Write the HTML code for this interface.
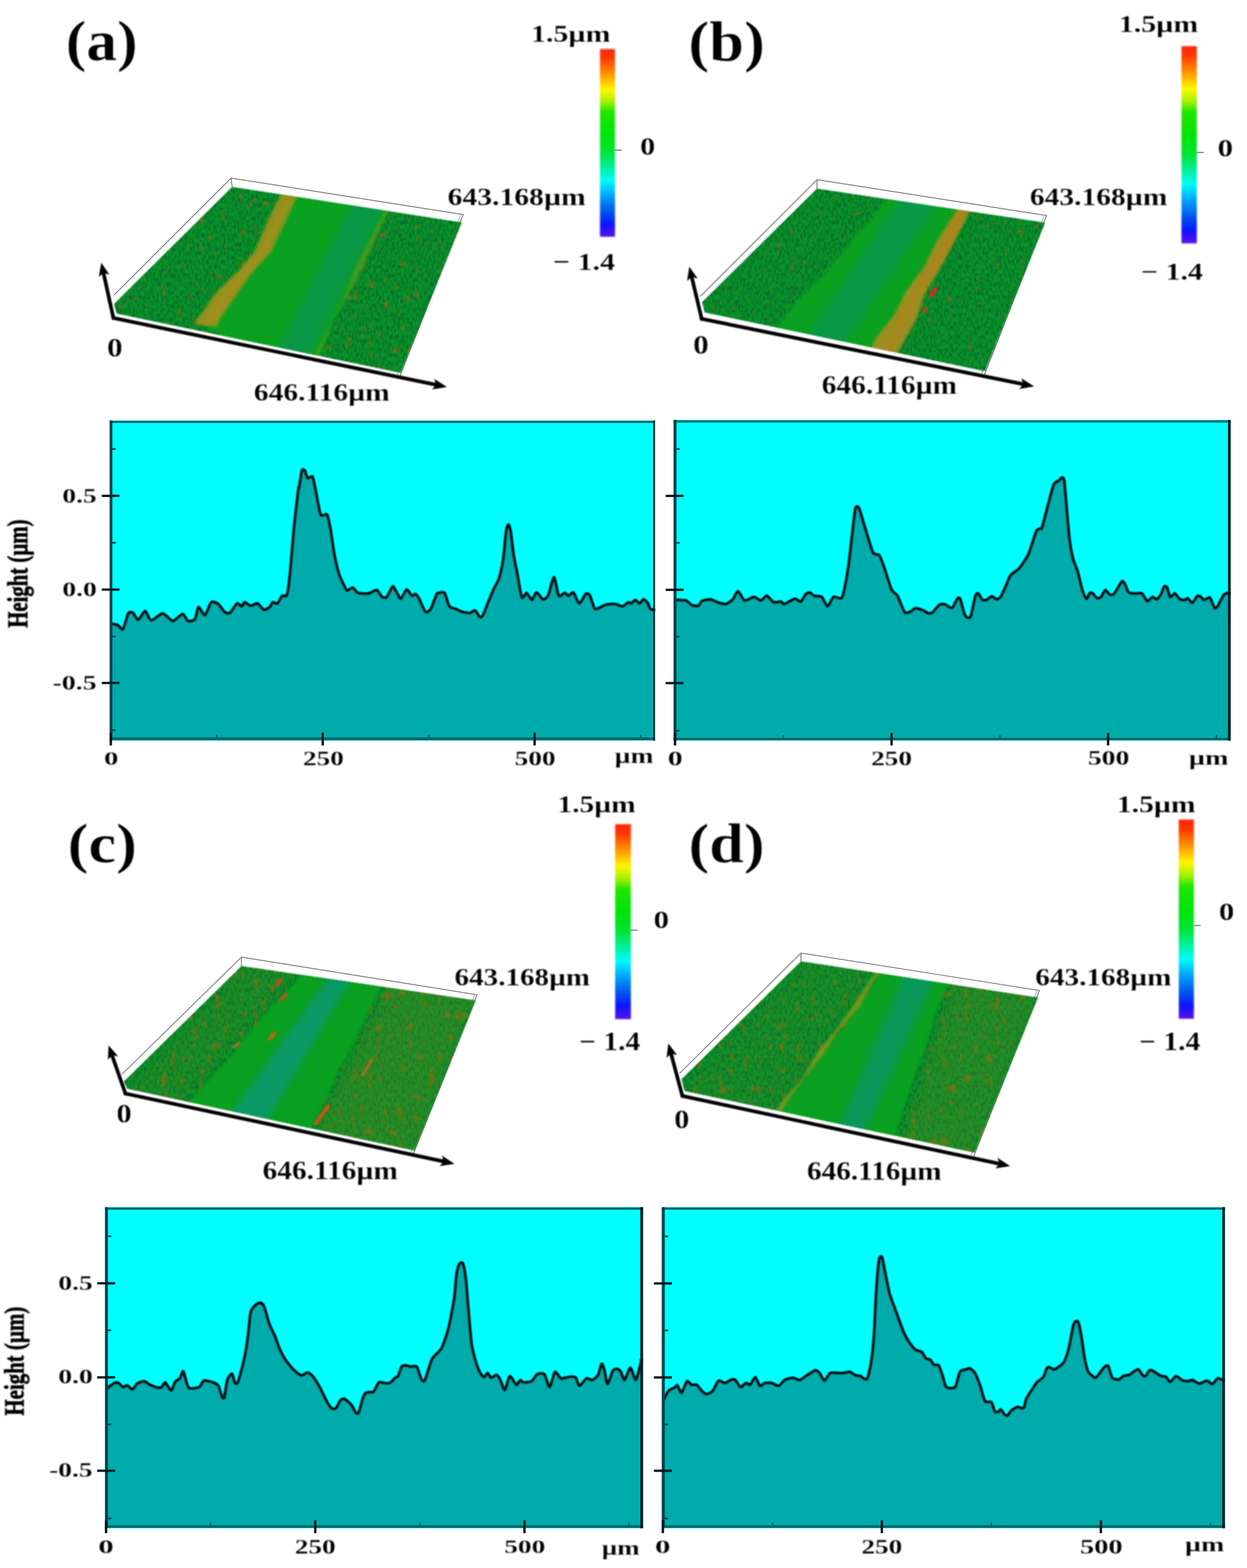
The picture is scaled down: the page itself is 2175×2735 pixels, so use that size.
<!DOCTYPE html>
<html lang="en"><head><meta charset="utf-8"><title>Figure</title>
<style>html,body{margin:0;padding:0;background:#fff}body{width:2175px;height:2735px;overflow:hidden}svg{display:block}</style>
</head><body>
<svg width="2175" height="2735" viewBox="0 0 2175 2735">
<defs>
<linearGradient id="cb" x1="0" y1="0" x2="0" y2="1">
<stop offset="0" stop-color="#ff2408"/>
<stop offset="0.05" stop-color="#ff3a00"/>
<stop offset="0.13" stop-color="#ff9000"/>
<stop offset="0.215" stop-color="#fff600"/>
<stop offset="0.28" stop-color="#a4f000"/>
<stop offset="0.335" stop-color="#1ee600"/>
<stop offset="0.45" stop-color="#00e408"/>
<stop offset="0.55" stop-color="#00e434"/>
<stop offset="0.63" stop-color="#00f09c"/>
<stop offset="0.70" stop-color="#00fcfc"/>
<stop offset="0.78" stop-color="#00a4f8"/>
<stop offset="0.87" stop-color="#0050f0"/>
<stop offset="0.935" stop-color="#0c14ff"/>
<stop offset="1" stop-color="#5c12e4"/>
</linearGradient>
<filter id="soft" x="-5%" y="-5%" width="110%" height="110%" color-interpolation-filters="sRGB"><feGaussianBlur stdDeviation="0.7"/></filter>
<filter id="softt" x="-5%" y="-5%" width="110%" height="110%" color-interpolation-filters="sRGB"><feGaussianBlur stdDeviation="0.9"/></filter>
<filter id="soft2" x="-5%" y="-5%" width="110%" height="110%" color-interpolation-filters="sRGB"><feGaussianBlur stdDeviation="1.1"/></filter>
<filter id="soft3" x="-20%" y="-5%" width="140%" height="110%" color-interpolation-filters="sRGB"><feGaussianBlur stdDeviation="1.6"/></filter>
<filter id="b3" x="-20%" y="-20%" width="140%" height="140%" color-interpolation-filters="sRGB"><feGaussianBlur stdDeviation="2.2"/></filter>
<filter id="b6" x="-30%" y="-30%" width="160%" height="160%" color-interpolation-filters="sRGB"><feGaussianBlur stdDeviation="7"/></filter>
<filter id="tex" x="0" y="0" width="100%" height="100%" color-interpolation-filters="sRGB">
<feTurbulence type="fractalNoise" baseFrequency="0.34 0.13" numOctaves="2" seed="7" result="n"/>
<feColorMatrix in="n" type="matrix" values="0 0 0 0 0.02  0 0 0 0 0.40  0 0 0 0 0.18  3.4 0 0 0 -1.45" result="d"/>
<feComposite in="d" in2="SourceGraphic" operator="in"/>
</filter>
<filter id="texS0" x="0" y="0" width="100%" height="100%" color-interpolation-filters="sRGB">
<feTurbulence type="fractalNoise" baseFrequency="0.08 0.06" numOctaves="2" seed="31" result="n"/>
<feColorMatrix in="n" type="matrix" values="0 0 0 0 0.55  0 0 0 0 0.40  0 0 0 0 0.10  0 5 0 0 -3.5" result="d"/>
<feComposite in="d" in2="SourceGraphic" operator="in"/>
</filter>
<filter id="texS1" x="0" y="0" width="100%" height="100%" color-interpolation-filters="sRGB">
<feTurbulence type="fractalNoise" baseFrequency="0.075 0.055" numOctaves="2" seed="12" result="n"/>
<feColorMatrix in="n" type="matrix" values="0 0 0 0 0.62  0 0 0 0 0.40  0 0 0 0 0.08  0 5 0 0 -3.3" result="d"/>
<feComposite in="d" in2="SourceGraphic" operator="in"/>
</filter>
<filter id="texS2" x="0" y="0" width="100%" height="100%" color-interpolation-filters="sRGB">
<feTurbulence type="fractalNoise" baseFrequency="0.075 0.055" numOctaves="2" seed="5" result="n"/>
<feColorMatrix in="n" type="matrix" values="0 0 0 0 0.56  0 0 0 0 0.40  0 0 0 0 0.08  0 4.5 0 0 -2.72" result="d"/>
<feComposite in="d" in2="SourceGraphic" operator="in"/>
</filter>
<filter id="texS3" x="0" y="0" width="100%" height="100%" color-interpolation-filters="sRGB">
<feTurbulence type="fractalNoise" baseFrequency="0.075 0.055" numOctaves="2" seed="17" result="n"/>
<feColorMatrix in="n" type="matrix" values="0 0 0 0 0.48  0 0 0 0 0.44  0 0 0 0 0.08  0 4.5 0 0 -2.72" result="d"/>
<feComposite in="d" in2="SourceGraphic" operator="in"/>
</filter>
</defs>
<rect x="0.00" y="0.00" width="2175.00" height="2735.00" fill="#ffffff"/>
<rect x="191.00" y="733.40" width="951.40" height="558.40" fill="#00ffff"/>
<path d="M195.0,1088.2 C195.1,1088.2 195.0,1087.9 196.1,1088.2 C197.3,1088.4 203.3,1089.2 205.3,1090.2 C207.3,1091.2 212.5,1099.6 214.5,1097.3 C216.5,1095.1 221.8,1072.9 223.7,1069.8 C225.6,1066.7 229.9,1067.5 231.8,1068.8 C233.7,1070.0 238.7,1081.4 241.0,1081.0 C243.4,1080.7 250.8,1065.6 253.3,1065.7 C255.7,1065.8 260.1,1081.6 263.5,1082.0 C266.8,1082.5 279.7,1069.7 283.9,1069.8 C288.0,1069.9 297.4,1082.9 301.2,1083.1 C305.0,1083.2 315.7,1070.8 318.6,1070.8 C321.5,1070.8 325.4,1082.1 327.8,1083.1 C330.1,1084.1 338.0,1082.7 340.0,1080.0 C342.0,1077.3 344.2,1059.4 346.1,1058.6 C348.0,1057.8 354.9,1073.8 357.3,1072.9 C359.8,1072.0 366.0,1052.5 368.6,1050.4 C371.2,1048.3 378.2,1051.6 380.8,1053.5 C383.4,1055.4 389.8,1066.1 392.0,1067.8 C394.3,1069.4 398.9,1070.5 401.2,1068.8 C403.6,1067.1 411.2,1053.7 413.5,1052.4 C415.7,1051.2 420.2,1057.8 421.6,1057.6 C423.1,1057.3 425.1,1050.5 426.7,1050.4 C428.4,1050.3 434.5,1056.3 436.9,1056.5 C439.4,1056.8 446.6,1051.7 449.2,1052.4 C451.8,1053.2 458.1,1063.0 460.4,1063.7 C462.8,1064.3 468.9,1060.0 470.6,1058.6 C472.3,1057.1 474.3,1051.1 475.7,1050.4 C477.2,1049.7 482.1,1053.7 483.9,1052.4 C485.7,1051.2 490.2,1040.8 492.0,1039.2 C493.8,1037.6 498.7,1042.0 500.2,1038.2 C501.7,1034.3 504.0,1017.2 505.3,1004.5 C506.7,991.8 510.8,939.7 512.4,922.9 C514.1,906.0 519.6,859.3 520.6,851.4 C521.6,843.6 520.8,854.8 521.4,851.4 C522.1,848.1 525.4,824.2 526.5,820.8 C527.7,817.4 530.5,819.4 531.6,820.8 C532.8,822.3 535.3,833.0 536.7,834.1 C538.2,835.2 543.4,829.1 544.9,831.0 C546.4,832.9 548.4,844.1 550.0,851.4 C551.6,858.7 556.9,892.3 559.2,897.3 C561.4,902.4 568.5,894.5 570.4,897.3 C572.3,900.2 575.1,914.9 576.5,922.9 C578.0,930.8 582.0,961.0 583.7,969.8 C585.4,978.6 590.0,996.8 591.8,1002.4 C593.6,1008.1 598.5,1017.8 600.0,1020.8 C601.5,1023.8 603.4,1029.6 605.1,1030.0 C606.8,1030.4 613.2,1024.4 615.3,1024.9 C617.4,1025.3 621.5,1033.0 624.5,1034.1 C627.5,1035.2 639.3,1035.7 642.9,1035.1 C646.4,1034.5 654.6,1028.3 657.1,1029.0 C659.7,1029.7 664.4,1039.9 666.3,1041.2 C668.2,1042.6 672.5,1043.2 674.5,1041.2 C676.5,1039.2 682.9,1024.0 684.7,1022.9 C686.5,1021.7 689.2,1028.7 690.8,1031.0 C692.4,1033.4 697.0,1044.6 699.0,1044.3 C701.0,1043.9 707.1,1028.5 709.2,1028.0 C711.3,1027.4 716.7,1038.3 718.4,1039.2 C720.1,1040.1 723.1,1035.7 724.5,1036.1 C725.8,1036.6 728.7,1039.9 730.6,1043.3 C732.5,1046.6 739.6,1064.6 741.8,1066.7 C744.1,1068.9 748.9,1065.9 751.0,1062.7 C753.2,1059.4 759.7,1040.3 761.2,1037.1 C762.8,1034.0 763.7,1034.4 765.3,1034.1 C766.9,1033.7 773.5,1031.5 775.5,1034.1 C777.5,1036.7 781.7,1054.5 783.7,1057.6 C785.7,1060.6 791.2,1060.5 793.9,1061.6 C796.6,1062.8 805.2,1067.0 808.2,1067.8 C811.1,1068.5 818.2,1069.1 820.4,1068.8 C822.7,1068.4 826.8,1063.9 828.6,1064.7 C830.4,1065.5 835.3,1074.9 836.7,1075.9 C838.2,1076.9 840.3,1076.6 841.8,1073.9 C843.4,1071.2 848.9,1056.6 851.0,1051.4 C853.2,1046.3 859.1,1031.7 861.2,1026.9 C863.4,1022.2 868.6,1014.2 870.4,1008.6 C872.2,1003.0 876.2,984.9 877.6,975.9 C878.9,966.9 881.6,933.7 882.7,926.9 C883.7,920.2 885.8,914.7 886.7,914.7 C887.6,914.7 889.8,921.1 890.8,926.9 C891.8,932.8 894.6,959.2 895.9,967.8 C897.3,976.3 901.5,996.3 903.1,1004.5 C904.6,1012.7 908.5,1039.0 910.2,1042.2 C911.9,1045.5 916.5,1033.6 918.4,1034.1 C920.3,1034.5 925.6,1046.4 927.6,1046.3 C929.5,1046.2 933.6,1033.2 935.7,1033.1 C937.8,1032.9 944.7,1044.7 946.9,1045.3 C949.2,1045.9 954.0,1042.4 956.1,1038.2 C958.3,1033.9 964.3,1006.4 966.3,1006.5 C968.3,1006.6 972.5,1036.2 974.5,1039.2 C976.5,1042.2 982.8,1034.1 984.7,1034.1 C986.6,1034.1 990.2,1039.3 991.8,1039.2 C993.5,1039.1 998.0,1031.6 1000.0,1033.1 C1002.0,1034.5 1007.8,1052.1 1010.2,1052.4 C1012.6,1052.8 1019.4,1037.7 1021.4,1036.1 C1023.4,1034.6 1026.9,1035.5 1028.6,1038.2 C1030.3,1040.9 1035.3,1058.0 1036.7,1060.6 C1038.2,1063.2 1039.6,1062.3 1041.8,1061.6 C1044.1,1061.0 1053.7,1055.4 1057.1,1054.5 C1060.6,1053.6 1070.3,1053.1 1073.5,1053.5 C1076.6,1053.8 1083.2,1057.9 1085.7,1057.6 C1088.2,1057.2 1094.2,1051.0 1095.9,1050.4 C1097.6,1049.8 1099.7,1052.9 1101.0,1052.4 C1102.4,1052.0 1106.6,1046.3 1108.2,1046.3 C1109.7,1046.3 1113.7,1052.6 1115.3,1052.4 C1116.9,1052.3 1120.9,1045.4 1122.4,1045.3 C1124.0,1045.2 1128.4,1049.6 1129.6,1051.4 C1130.8,1053.2 1132.6,1060.3 1133.7,1061.6 C1134.8,1063.0 1139.1,1063.4 1139.8,1063.7 C1140.5,1063.9 1140.3,1063.7 1140.4,1063.7 L1140.4,1287.3 L195.0,1287.3 Z" fill="#00abab"/>
<path d="M195.0,1088.2 C195.1,1088.2 195.0,1087.9 196.1,1088.2 C197.3,1088.4 203.3,1089.2 205.3,1090.2 C207.3,1091.2 212.5,1099.6 214.5,1097.3 C216.5,1095.1 221.8,1072.9 223.7,1069.8 C225.6,1066.7 229.9,1067.5 231.8,1068.8 C233.7,1070.0 238.7,1081.4 241.0,1081.0 C243.4,1080.7 250.8,1065.6 253.3,1065.7 C255.7,1065.8 260.1,1081.6 263.5,1082.0 C266.8,1082.5 279.7,1069.7 283.9,1069.8 C288.0,1069.9 297.4,1082.9 301.2,1083.1 C305.0,1083.2 315.7,1070.8 318.6,1070.8 C321.5,1070.8 325.4,1082.1 327.8,1083.1 C330.1,1084.1 338.0,1082.7 340.0,1080.0 C342.0,1077.3 344.2,1059.4 346.1,1058.6 C348.0,1057.8 354.9,1073.8 357.3,1072.9 C359.8,1072.0 366.0,1052.5 368.6,1050.4 C371.2,1048.3 378.2,1051.6 380.8,1053.5 C383.4,1055.4 389.8,1066.1 392.0,1067.8 C394.3,1069.4 398.9,1070.5 401.2,1068.8 C403.6,1067.1 411.2,1053.7 413.5,1052.4 C415.7,1051.2 420.2,1057.8 421.6,1057.6 C423.1,1057.3 425.1,1050.5 426.7,1050.4 C428.4,1050.3 434.5,1056.3 436.9,1056.5 C439.4,1056.8 446.6,1051.7 449.2,1052.4 C451.8,1053.2 458.1,1063.0 460.4,1063.7 C462.8,1064.3 468.9,1060.0 470.6,1058.6 C472.3,1057.1 474.3,1051.1 475.7,1050.4 C477.2,1049.7 482.1,1053.7 483.9,1052.4 C485.7,1051.2 490.2,1040.8 492.0,1039.2 C493.8,1037.6 498.7,1042.0 500.2,1038.2 C501.7,1034.3 504.0,1017.2 505.3,1004.5 C506.7,991.8 510.8,939.7 512.4,922.9 C514.1,906.0 519.6,859.3 520.6,851.4 C521.6,843.6 520.8,854.8 521.4,851.4 C522.1,848.1 525.4,824.2 526.5,820.8 C527.7,817.4 530.5,819.4 531.6,820.8 C532.8,822.3 535.3,833.0 536.7,834.1 C538.2,835.2 543.4,829.1 544.9,831.0 C546.4,832.9 548.4,844.1 550.0,851.4 C551.6,858.7 556.9,892.3 559.2,897.3 C561.4,902.4 568.5,894.5 570.4,897.3 C572.3,900.2 575.1,914.9 576.5,922.9 C578.0,930.8 582.0,961.0 583.7,969.8 C585.4,978.6 590.0,996.8 591.8,1002.4 C593.6,1008.1 598.5,1017.8 600.0,1020.8 C601.5,1023.8 603.4,1029.6 605.1,1030.0 C606.8,1030.4 613.2,1024.4 615.3,1024.9 C617.4,1025.3 621.5,1033.0 624.5,1034.1 C627.5,1035.2 639.3,1035.7 642.9,1035.1 C646.4,1034.5 654.6,1028.3 657.1,1029.0 C659.7,1029.7 664.4,1039.9 666.3,1041.2 C668.2,1042.6 672.5,1043.2 674.5,1041.2 C676.5,1039.2 682.9,1024.0 684.7,1022.9 C686.5,1021.7 689.2,1028.7 690.8,1031.0 C692.4,1033.4 697.0,1044.6 699.0,1044.3 C701.0,1043.9 707.1,1028.5 709.2,1028.0 C711.3,1027.4 716.7,1038.3 718.4,1039.2 C720.1,1040.1 723.1,1035.7 724.5,1036.1 C725.8,1036.6 728.7,1039.9 730.6,1043.3 C732.5,1046.6 739.6,1064.6 741.8,1066.7 C744.1,1068.9 748.9,1065.9 751.0,1062.7 C753.2,1059.4 759.7,1040.3 761.2,1037.1 C762.8,1034.0 763.7,1034.4 765.3,1034.1 C766.9,1033.7 773.5,1031.5 775.5,1034.1 C777.5,1036.7 781.7,1054.5 783.7,1057.6 C785.7,1060.6 791.2,1060.5 793.9,1061.6 C796.6,1062.8 805.2,1067.0 808.2,1067.8 C811.1,1068.5 818.2,1069.1 820.4,1068.8 C822.7,1068.4 826.8,1063.9 828.6,1064.7 C830.4,1065.5 835.3,1074.9 836.7,1075.9 C838.2,1076.9 840.3,1076.6 841.8,1073.9 C843.4,1071.2 848.9,1056.6 851.0,1051.4 C853.2,1046.3 859.1,1031.7 861.2,1026.9 C863.4,1022.2 868.6,1014.2 870.4,1008.6 C872.2,1003.0 876.2,984.9 877.6,975.9 C878.9,966.9 881.6,933.7 882.7,926.9 C883.7,920.2 885.8,914.7 886.7,914.7 C887.6,914.7 889.8,921.1 890.8,926.9 C891.8,932.8 894.6,959.2 895.9,967.8 C897.3,976.3 901.5,996.3 903.1,1004.5 C904.6,1012.7 908.5,1039.0 910.2,1042.2 C911.9,1045.5 916.5,1033.6 918.4,1034.1 C920.3,1034.5 925.6,1046.4 927.6,1046.3 C929.5,1046.2 933.6,1033.2 935.7,1033.1 C937.8,1032.9 944.7,1044.7 946.9,1045.3 C949.2,1045.9 954.0,1042.4 956.1,1038.2 C958.3,1033.9 964.3,1006.4 966.3,1006.5 C968.3,1006.6 972.5,1036.2 974.5,1039.2 C976.5,1042.2 982.8,1034.1 984.7,1034.1 C986.6,1034.1 990.2,1039.3 991.8,1039.2 C993.5,1039.1 998.0,1031.6 1000.0,1033.1 C1002.0,1034.5 1007.8,1052.1 1010.2,1052.4 C1012.6,1052.8 1019.4,1037.7 1021.4,1036.1 C1023.4,1034.6 1026.9,1035.5 1028.6,1038.2 C1030.3,1040.9 1035.3,1058.0 1036.7,1060.6 C1038.2,1063.2 1039.6,1062.3 1041.8,1061.6 C1044.1,1061.0 1053.7,1055.4 1057.1,1054.5 C1060.6,1053.6 1070.3,1053.1 1073.5,1053.5 C1076.6,1053.8 1083.2,1057.9 1085.7,1057.6 C1088.2,1057.2 1094.2,1051.0 1095.9,1050.4 C1097.6,1049.8 1099.7,1052.9 1101.0,1052.4 C1102.4,1052.0 1106.6,1046.3 1108.2,1046.3 C1109.7,1046.3 1113.7,1052.6 1115.3,1052.4 C1116.9,1052.3 1120.9,1045.4 1122.4,1045.3 C1124.0,1045.2 1128.4,1049.6 1129.6,1051.4 C1130.8,1053.2 1132.6,1060.3 1133.7,1061.6 C1134.8,1063.0 1139.1,1063.4 1139.8,1063.7 C1140.5,1063.9 1140.3,1063.7 1140.4,1063.7" fill="none" stroke="#020d12" stroke-width="4.7" stroke-linejoin="round" stroke-linecap="round" filter="url(#soft2)"/>
<rect x="196.00" y="1272.15" width="6.00" height="3.00" fill="#0a4a50"/>
<rect x="196.00" y="1108.65" width="6.00" height="3.00" fill="#0a4a50"/>
<rect x="196.00" y="945.15" width="6.00" height="3.00" fill="#0a4a50"/>
<rect x="196.00" y="781.65" width="6.00" height="3.00" fill="#0a4a50"/>
<rect x="376.80" y="1281.30" width="2.60" height="5.00" fill="#0a5a60"/>
<rect x="746.40" y="1281.30" width="2.60" height="5.00" fill="#0a5a60"/>
<rect x="1116.00" y="1281.30" width="2.60" height="5.00" fill="#0a5a60"/>
<g filter="url(#soft)">
<rect x="191.00" y="734.00" width="951.40" height="3.80" fill="#0a6a6e"/>
<rect x="191.00" y="1286.30" width="951.40" height="4.90" fill="#08666c"/>
<rect x="191.30" y="733.40" width="4.70" height="558.40" fill="#06444a"/>
<rect x="1139.40" y="733.40" width="3.00" height="558.40" fill="#04181c"/>
<rect x="177.50" y="862.90" width="31.00" height="4.00" fill="#04181c"/>
<rect x="177.50" y="1026.40" width="31.00" height="4.00" fill="#04181c"/>
<rect x="177.50" y="1189.30" width="31.00" height="4.00" fill="#04181c"/>
<rect x="191.20" y="1277.80" width="4.20" height="22.50" fill="#04181c"/>
<rect x="560.80" y="1277.80" width="4.20" height="22.50" fill="#04181c"/>
<rect x="930.40" y="1277.80" width="4.20" height="22.50" fill="#04181c"/>
</g>
<rect x="1174.60" y="732.50" width="971.90" height="559.30" fill="#00ffff"/>
<path d="M1178.9,1046.3 C1179.0,1046.3 1178.3,1046.2 1180.2,1046.3 C1182.1,1046.4 1193.6,1046.3 1196.5,1047.3 C1199.4,1048.4 1204.4,1054.5 1206.7,1055.5 C1209.1,1056.5 1216.1,1057.3 1218.0,1056.5 C1219.9,1055.7 1221.7,1049.6 1224.1,1048.4 C1226.4,1047.1 1236.4,1045.1 1239.4,1045.3 C1242.4,1045.5 1248.7,1049.5 1251.6,1050.4 C1254.6,1051.3 1263.0,1054.0 1265.9,1053.5 C1268.8,1052.9 1275.8,1047.8 1278.2,1045.3 C1280.5,1042.8 1285.1,1030.8 1287.3,1031.0 C1289.6,1031.2 1295.5,1046.2 1298.6,1047.3 C1301.6,1048.5 1311.8,1041.2 1314.9,1041.2 C1318.0,1041.2 1324.7,1047.6 1327.1,1047.3 C1329.6,1047.1 1334.9,1038.8 1337.3,1039.2 C1339.8,1039.5 1346.9,1049.3 1349.6,1050.4 C1352.3,1051.5 1359.8,1049.1 1361.8,1049.4 C1363.9,1049.7 1365.3,1054.0 1368.0,1053.5 C1370.7,1052.9 1383.2,1044.7 1386.3,1044.3 C1389.5,1043.8 1394.5,1050.2 1396.5,1049.4 C1398.6,1048.6 1403.0,1038.9 1404.7,1037.1 C1406.4,1035.3 1410.2,1032.8 1411.8,1033.1 C1413.5,1033.3 1417.6,1038.3 1420.0,1039.2 C1422.4,1040.1 1430.7,1039.2 1433.3,1041.2 C1435.8,1043.2 1441.2,1057.6 1443.5,1057.6 C1445.7,1057.6 1451.0,1042.8 1453.7,1041.2 C1456.4,1039.7 1465.7,1045.5 1468.0,1043.3 C1470.2,1041.0 1472.7,1027.3 1474.1,1020.8 C1475.4,1014.3 1478.7,994.9 1480.2,984.1 C1481.7,973.3 1486.0,933.6 1487.3,922.9 C1488.6,912.1 1490.9,890.2 1492.0,886.1 C1493.2,882.1 1496.4,882.5 1498.2,886.1 C1500.0,889.7 1505.7,910.2 1508.4,918.8 C1511.1,927.3 1519.8,958.2 1522.7,963.7 C1525.5,969.2 1531.6,965.6 1533.9,968.8 C1536.1,971.9 1540.7,985.6 1543.1,992.2 C1545.4,998.9 1552.8,1023.8 1555.3,1029.0 C1557.8,1034.1 1563.0,1034.9 1565.5,1039.2 C1568.0,1043.4 1575.3,1064.7 1577.8,1067.8 C1580.2,1070.8 1585.8,1067.5 1588.0,1066.7 C1590.1,1065.9 1594.7,1060.8 1597.1,1060.6 C1599.6,1060.4 1607.9,1063.7 1610.4,1064.7 C1612.9,1065.7 1617.8,1069.5 1619.6,1069.8 C1621.4,1070.1 1624.6,1069.4 1626.7,1067.8 C1628.9,1066.1 1636.5,1055.9 1639.0,1054.5 C1641.4,1053.0 1646.8,1053.8 1649.2,1054.5 C1651.5,1055.2 1658.2,1061.7 1660.4,1060.6 C1662.7,1059.5 1668.0,1046.1 1669.6,1044.3 C1671.2,1042.5 1673.3,1041.5 1674.7,1044.3 C1676.0,1047.1 1680.5,1066.2 1681.8,1069.8 C1683.2,1073.4 1685.7,1076.4 1686.9,1076.9 C1688.2,1077.5 1691.5,1079.1 1693.1,1074.9 C1694.6,1070.7 1699.8,1043.6 1701.2,1039.2 C1702.7,1034.8 1705.0,1034.3 1706.3,1035.1 C1707.7,1035.9 1711.9,1045.1 1713.5,1046.3 C1715.0,1047.6 1718.8,1047.0 1720.6,1046.3 C1722.4,1045.7 1727.9,1040.3 1729.8,1040.2 C1731.7,1040.1 1736.3,1045.2 1738.0,1045.3 C1739.6,1045.4 1743.5,1043.2 1745.1,1041.2 C1746.7,1039.2 1750.3,1031.1 1752.2,1026.9 C1754.2,1022.8 1759.6,1007.4 1762.4,1003.5 C1765.3,999.5 1774.3,995.4 1777.8,991.2 C1781.2,987.1 1790.8,972.8 1794.1,965.7 C1797.3,958.6 1804.9,931.9 1807.3,926.9 C1809.8,922.0 1815.4,921.5 1816.5,920.8 C1817.6,920.1 1816.2,924.6 1817.3,920.8 C1818.4,917.0 1824.3,894.4 1826.5,886.1 C1828.8,877.8 1835.5,850.6 1837.8,845.3 C1840.0,840.0 1845.4,839.5 1846.9,838.2 C1848.5,836.8 1851.0,833.2 1852.0,833.1 C1853.1,832.9 1855.2,831.8 1856.1,837.1 C1857.0,842.5 1859.2,870.8 1860.2,882.0 C1861.2,893.3 1864.1,929.1 1865.3,939.2 C1866.5,949.3 1869.9,967.6 1871.4,973.9 C1873.0,980.2 1877.8,990.3 1879.6,996.3 C1881.4,1002.4 1886.1,1023.7 1887.8,1029.0 C1889.4,1034.3 1893.4,1043.7 1894.9,1044.3 C1896.4,1044.8 1899.8,1035.1 1901.0,1034.1 C1902.3,1033.1 1904.8,1034.1 1906.1,1035.1 C1907.5,1036.1 1911.7,1042.6 1913.3,1043.3 C1914.8,1043.9 1918.8,1042.8 1920.4,1041.2 C1922.0,1039.7 1925.9,1029.4 1927.6,1029.0 C1929.2,1028.5 1934.0,1036.4 1935.7,1037.1 C1937.4,1037.9 1941.2,1037.7 1942.9,1036.1 C1944.5,1034.6 1949.4,1025.3 1951.0,1022.9 C1952.6,1020.4 1955.9,1014.1 1957.1,1013.7 C1958.4,1013.2 1961.0,1016.6 1962.2,1018.8 C1963.5,1020.9 1966.5,1031.3 1968.4,1033.1 C1970.3,1034.9 1977.0,1034.9 1979.6,1035.1 C1982.2,1035.3 1989.5,1033.6 1991.8,1035.1 C1994.2,1036.6 1999.0,1047.7 2001.0,1048.4 C2003.0,1049.0 2008.4,1041.6 2010.2,1041.2 C2012.0,1040.9 2015.8,1045.8 2017.3,1045.3 C2018.9,1044.9 2023.0,1039.6 2024.5,1037.1 C2025.9,1034.7 2029.4,1024.2 2030.6,1022.9 C2031.8,1021.5 2034.6,1022.9 2035.7,1024.9 C2036.8,1026.9 2039.4,1040.1 2040.8,1041.2 C2042.3,1042.3 2047.1,1034.7 2049.0,1035.1 C2050.9,1035.6 2056.1,1044.1 2058.2,1045.3 C2060.2,1046.5 2065.9,1046.6 2067.3,1046.3 C2068.8,1046.1 2070.1,1042.7 2071.4,1043.3 C2072.8,1043.8 2077.8,1051.8 2079.6,1051.4 C2081.4,1051.1 2086.2,1041.4 2087.8,1040.2 C2089.3,1039.0 2092.5,1039.5 2093.9,1040.2 C2095.2,1040.9 2098.2,1046.1 2100.0,1046.3 C2101.8,1046.6 2108.2,1040.7 2110.2,1042.2 C2112.2,1043.8 2116.9,1058.9 2118.4,1060.6 C2119.8,1062.3 2121.7,1060.1 2123.5,1057.6 C2125.3,1055.0 2132.4,1039.7 2134.7,1037.1 C2136.9,1034.6 2143.0,1034.4 2143.9,1034.1 C2144.8,1033.7 2142.9,1034.1 2142.8,1034.1 L2142.8,1288.0 L1178.9,1288.0 Z" fill="#00abab"/>
<path d="M1178.9,1046.3 C1179.0,1046.3 1178.3,1046.2 1180.2,1046.3 C1182.1,1046.4 1193.6,1046.3 1196.5,1047.3 C1199.4,1048.4 1204.4,1054.5 1206.7,1055.5 C1209.1,1056.5 1216.1,1057.3 1218.0,1056.5 C1219.9,1055.7 1221.7,1049.6 1224.1,1048.4 C1226.4,1047.1 1236.4,1045.1 1239.4,1045.3 C1242.4,1045.5 1248.7,1049.5 1251.6,1050.4 C1254.6,1051.3 1263.0,1054.0 1265.9,1053.5 C1268.8,1052.9 1275.8,1047.8 1278.2,1045.3 C1280.5,1042.8 1285.1,1030.8 1287.3,1031.0 C1289.6,1031.2 1295.5,1046.2 1298.6,1047.3 C1301.6,1048.5 1311.8,1041.2 1314.9,1041.2 C1318.0,1041.2 1324.7,1047.6 1327.1,1047.3 C1329.6,1047.1 1334.9,1038.8 1337.3,1039.2 C1339.8,1039.5 1346.9,1049.3 1349.6,1050.4 C1352.3,1051.5 1359.8,1049.1 1361.8,1049.4 C1363.9,1049.7 1365.3,1054.0 1368.0,1053.5 C1370.7,1052.9 1383.2,1044.7 1386.3,1044.3 C1389.5,1043.8 1394.5,1050.2 1396.5,1049.4 C1398.6,1048.6 1403.0,1038.9 1404.7,1037.1 C1406.4,1035.3 1410.2,1032.8 1411.8,1033.1 C1413.5,1033.3 1417.6,1038.3 1420.0,1039.2 C1422.4,1040.1 1430.7,1039.2 1433.3,1041.2 C1435.8,1043.2 1441.2,1057.6 1443.5,1057.6 C1445.7,1057.6 1451.0,1042.8 1453.7,1041.2 C1456.4,1039.7 1465.7,1045.5 1468.0,1043.3 C1470.2,1041.0 1472.7,1027.3 1474.1,1020.8 C1475.4,1014.3 1478.7,994.9 1480.2,984.1 C1481.7,973.3 1486.0,933.6 1487.3,922.9 C1488.6,912.1 1490.9,890.2 1492.0,886.1 C1493.2,882.1 1496.4,882.5 1498.2,886.1 C1500.0,889.7 1505.7,910.2 1508.4,918.8 C1511.1,927.3 1519.8,958.2 1522.7,963.7 C1525.5,969.2 1531.6,965.6 1533.9,968.8 C1536.1,971.9 1540.7,985.6 1543.1,992.2 C1545.4,998.9 1552.8,1023.8 1555.3,1029.0 C1557.8,1034.1 1563.0,1034.9 1565.5,1039.2 C1568.0,1043.4 1575.3,1064.7 1577.8,1067.8 C1580.2,1070.8 1585.8,1067.5 1588.0,1066.7 C1590.1,1065.9 1594.7,1060.8 1597.1,1060.6 C1599.6,1060.4 1607.9,1063.7 1610.4,1064.7 C1612.9,1065.7 1617.8,1069.5 1619.6,1069.8 C1621.4,1070.1 1624.6,1069.4 1626.7,1067.8 C1628.9,1066.1 1636.5,1055.9 1639.0,1054.5 C1641.4,1053.0 1646.8,1053.8 1649.2,1054.5 C1651.5,1055.2 1658.2,1061.7 1660.4,1060.6 C1662.7,1059.5 1668.0,1046.1 1669.6,1044.3 C1671.2,1042.5 1673.3,1041.5 1674.7,1044.3 C1676.0,1047.1 1680.5,1066.2 1681.8,1069.8 C1683.2,1073.4 1685.7,1076.4 1686.9,1076.9 C1688.2,1077.5 1691.5,1079.1 1693.1,1074.9 C1694.6,1070.7 1699.8,1043.6 1701.2,1039.2 C1702.7,1034.8 1705.0,1034.3 1706.3,1035.1 C1707.7,1035.9 1711.9,1045.1 1713.5,1046.3 C1715.0,1047.6 1718.8,1047.0 1720.6,1046.3 C1722.4,1045.7 1727.9,1040.3 1729.8,1040.2 C1731.7,1040.1 1736.3,1045.2 1738.0,1045.3 C1739.6,1045.4 1743.5,1043.2 1745.1,1041.2 C1746.7,1039.2 1750.3,1031.1 1752.2,1026.9 C1754.2,1022.8 1759.6,1007.4 1762.4,1003.5 C1765.3,999.5 1774.3,995.4 1777.8,991.2 C1781.2,987.1 1790.8,972.8 1794.1,965.7 C1797.3,958.6 1804.9,931.9 1807.3,926.9 C1809.8,922.0 1815.4,921.5 1816.5,920.8 C1817.6,920.1 1816.2,924.6 1817.3,920.8 C1818.4,917.0 1824.3,894.4 1826.5,886.1 C1828.8,877.8 1835.5,850.6 1837.8,845.3 C1840.0,840.0 1845.4,839.5 1846.9,838.2 C1848.5,836.8 1851.0,833.2 1852.0,833.1 C1853.1,832.9 1855.2,831.8 1856.1,837.1 C1857.0,842.5 1859.2,870.8 1860.2,882.0 C1861.2,893.3 1864.1,929.1 1865.3,939.2 C1866.5,949.3 1869.9,967.6 1871.4,973.9 C1873.0,980.2 1877.8,990.3 1879.6,996.3 C1881.4,1002.4 1886.1,1023.7 1887.8,1029.0 C1889.4,1034.3 1893.4,1043.7 1894.9,1044.3 C1896.4,1044.8 1899.8,1035.1 1901.0,1034.1 C1902.3,1033.1 1904.8,1034.1 1906.1,1035.1 C1907.5,1036.1 1911.7,1042.6 1913.3,1043.3 C1914.8,1043.9 1918.8,1042.8 1920.4,1041.2 C1922.0,1039.7 1925.9,1029.4 1927.6,1029.0 C1929.2,1028.5 1934.0,1036.4 1935.7,1037.1 C1937.4,1037.9 1941.2,1037.7 1942.9,1036.1 C1944.5,1034.6 1949.4,1025.3 1951.0,1022.9 C1952.6,1020.4 1955.9,1014.1 1957.1,1013.7 C1958.4,1013.2 1961.0,1016.6 1962.2,1018.8 C1963.5,1020.9 1966.5,1031.3 1968.4,1033.1 C1970.3,1034.9 1977.0,1034.9 1979.6,1035.1 C1982.2,1035.3 1989.5,1033.6 1991.8,1035.1 C1994.2,1036.6 1999.0,1047.7 2001.0,1048.4 C2003.0,1049.0 2008.4,1041.6 2010.2,1041.2 C2012.0,1040.9 2015.8,1045.8 2017.3,1045.3 C2018.9,1044.9 2023.0,1039.6 2024.5,1037.1 C2025.9,1034.7 2029.4,1024.2 2030.6,1022.9 C2031.8,1021.5 2034.6,1022.9 2035.7,1024.9 C2036.8,1026.9 2039.4,1040.1 2040.8,1041.2 C2042.3,1042.3 2047.1,1034.7 2049.0,1035.1 C2050.9,1035.6 2056.1,1044.1 2058.2,1045.3 C2060.2,1046.5 2065.9,1046.6 2067.3,1046.3 C2068.8,1046.1 2070.1,1042.7 2071.4,1043.3 C2072.8,1043.8 2077.8,1051.8 2079.6,1051.4 C2081.4,1051.1 2086.2,1041.4 2087.8,1040.2 C2089.3,1039.0 2092.5,1039.5 2093.9,1040.2 C2095.2,1040.9 2098.2,1046.1 2100.0,1046.3 C2101.8,1046.6 2108.2,1040.7 2110.2,1042.2 C2112.2,1043.8 2116.9,1058.9 2118.4,1060.6 C2119.8,1062.3 2121.7,1060.1 2123.5,1057.6 C2125.3,1055.0 2132.4,1039.7 2134.7,1037.1 C2136.9,1034.6 2143.0,1034.4 2143.9,1034.1 C2144.8,1033.7 2142.9,1034.1 2142.8,1034.1" fill="none" stroke="#020d12" stroke-width="4.7" stroke-linejoin="round" stroke-linecap="round" filter="url(#soft2)"/>
<rect x="1179.90" y="1273.00" width="6.00" height="3.00" fill="#0a4a50"/>
<rect x="1179.90" y="1109.20" width="6.00" height="3.00" fill="#0a4a50"/>
<rect x="1179.90" y="945.40" width="6.00" height="3.00" fill="#0a4a50"/>
<rect x="1179.90" y="781.60" width="6.00" height="3.00" fill="#0a4a50"/>
<rect x="1364.95" y="1282.00" width="2.60" height="5.00" fill="#0a5a60"/>
<rect x="1742.65" y="1282.00" width="2.60" height="5.00" fill="#0a5a60"/>
<rect x="2120.35" y="1282.00" width="2.60" height="5.00" fill="#0a5a60"/>
<g filter="url(#soft)">
<rect x="1174.60" y="733.10" width="971.90" height="3.80" fill="#0a6a6e"/>
<rect x="1174.60" y="1287.00" width="971.90" height="4.20" fill="#08666c"/>
<rect x="1174.90" y="732.50" width="5.00" height="559.30" fill="#06444a"/>
<rect x="2141.80" y="732.50" width="4.70" height="559.30" fill="#04181c"/>
<rect x="1161.10" y="863.00" width="31.30" height="4.00" fill="#04181c"/>
<rect x="1161.10" y="1026.80" width="31.30" height="4.00" fill="#04181c"/>
<rect x="1161.10" y="1189.50" width="31.30" height="4.00" fill="#04181c"/>
<rect x="1175.30" y="1278.50" width="4.20" height="21.80" fill="#04181c"/>
<rect x="1553.00" y="1278.50" width="4.20" height="21.80" fill="#04181c"/>
<rect x="1930.60" y="1278.50" width="4.20" height="21.80" fill="#04181c"/>
</g>
<rect x="182.90" y="2105.50" width="938.70" height="560.20" fill="#00ffff"/>
<path d="M187.2,2420.4 C187.3,2420.4 186.8,2421.3 188.2,2420.4 C189.5,2419.5 197.4,2413.1 199.4,2412.2 C201.4,2411.3 204.8,2411.5 206.5,2412.2 C208.2,2413.0 213.0,2418.9 214.7,2419.4 C216.4,2419.8 220.0,2415.9 221.8,2416.3 C223.6,2416.8 229.1,2423.8 231.0,2423.5 C232.9,2423.1 236.9,2414.8 239.2,2413.3 C241.4,2411.7 249.0,2409.0 251.4,2409.2 C253.9,2409.4 258.9,2414.1 261.6,2415.3 C264.3,2416.5 273.7,2420.0 275.9,2420.4 C278.2,2420.9 280.7,2420.4 282.0,2419.4 C283.4,2418.4 286.4,2410.6 288.2,2411.2 C290.0,2411.9 296.5,2425.6 298.4,2425.5 C300.3,2425.4 303.8,2412.6 305.5,2410.2 C307.2,2407.8 312.1,2406.1 313.7,2404.1 C315.2,2402.1 318.1,2390.0 319.8,2391.8 C321.5,2393.6 325.9,2417.4 329.0,2420.4 C332.0,2423.4 344.4,2420.7 347.3,2419.4 C350.3,2418.0 352.8,2409.1 355.5,2408.2 C358.2,2407.3 369.0,2410.2 371.8,2411.2 C374.6,2412.2 379.3,2414.7 381.0,2417.3 C382.7,2420.0 386.0,2433.5 387.1,2435.7 C388.3,2438.0 390.2,2440.9 391.2,2437.8 C392.2,2434.6 394.9,2411.7 396.3,2407.1 C397.8,2402.5 403.0,2395.5 404.5,2395.9 C405.9,2396.4 408.5,2409.5 409.6,2411.2 C410.7,2412.9 413.0,2415.3 414.7,2411.2 C416.4,2407.2 423.0,2383.0 424.9,2374.5 C426.8,2366.0 430.7,2343.1 432.0,2333.7 C433.4,2324.2 435.7,2295.1 437.1,2288.8 C438.6,2282.5 443.5,2278.3 445.3,2276.5 C447.1,2274.7 451.8,2272.2 453.5,2272.4 C455.2,2272.7 458.8,2274.5 460.6,2278.6 C462.4,2282.6 467.7,2303.3 469.8,2309.2 C471.9,2315.0 478.0,2326.7 480.0,2331.6 C482.0,2336.6 486.1,2349.6 488.2,2354.1 C490.2,2358.6 495.7,2368.5 498.4,2372.4 C501.1,2376.4 509.6,2386.9 512.7,2389.8 C515.7,2392.7 523.3,2398.5 525.9,2399.0 C528.5,2399.4 534.0,2393.8 536.1,2393.9 C538.3,2394.0 542.9,2397.2 545.3,2400.0 C547.7,2402.8 554.9,2414.6 557.6,2419.4 C560.2,2424.2 567.6,2439.8 569.8,2443.9 C572.0,2447.9 576.2,2454.8 578.0,2456.1 C579.8,2457.5 584.4,2457.6 586.1,2456.1 C587.8,2454.7 591.7,2444.7 593.3,2442.9 C594.8,2441.1 598.3,2439.0 600.4,2439.8 C602.5,2440.6 610.4,2447.3 612.7,2450.0 C614.9,2452.7 619.4,2462.8 620.8,2464.3 C622.3,2465.7 624.6,2466.2 625.9,2463.3 C627.3,2460.3 631.6,2441.6 633.1,2437.8 C634.5,2433.9 637.2,2429.7 639.2,2428.6 C641.2,2427.4 649.1,2429.5 651.4,2427.6 C653.8,2425.6 658.6,2412.9 660.6,2411.2 C662.6,2409.5 667.7,2412.1 669.8,2412.2 C671.9,2412.4 678.0,2413.1 680.0,2412.2 C682.0,2411.3 686.6,2405.4 688.2,2404.1 C689.7,2402.7 692.9,2402.2 694.3,2400.0 C695.6,2397.8 699.1,2385.7 700.4,2383.7 C701.8,2381.7 704.7,2381.6 706.5,2381.6 C708.3,2381.6 714.5,2383.4 716.7,2383.7 C719.0,2383.9 724.9,2381.2 726.9,2383.7 C729.0,2386.1 733.5,2403.5 735.1,2406.1 C736.7,2408.7 739.2,2411.1 741.2,2407.1 C743.2,2403.2 750.3,2376.5 753.5,2370.4 C756.6,2364.3 766.7,2357.9 769.8,2352.0 C772.9,2346.2 779.6,2327.0 782.0,2317.3 C784.5,2307.7 790.7,2274.8 792.2,2264.3 C793.8,2253.7 795.3,2228.1 796.3,2221.4 C797.3,2214.8 800.2,2206.0 801.4,2204.1 C802.7,2202.2 806.3,2201.1 807.6,2204.1 C808.8,2207.1 811.5,2221.9 812.7,2231.6 C813.8,2241.4 816.6,2280.3 817.8,2292.9 C818.9,2305.4 821.4,2336.5 822.9,2345.9 C824.3,2355.3 829.4,2373.3 831.0,2378.6 C832.6,2383.8 835.7,2391.3 837.1,2393.9 C838.6,2396.5 842.8,2401.9 844.3,2402.0 C845.7,2402.2 849.1,2394.8 850.4,2394.9 C851.8,2395.0 854.8,2402.7 856.5,2403.1 C858.2,2403.4 864.0,2397.7 865.7,2398.0 C867.4,2398.2 870.4,2402.3 871.8,2405.1 C873.3,2407.9 877.9,2421.7 879.0,2423.5 C880.1,2425.3 880.9,2424.0 882.0,2421.4 C883.2,2418.8 887.2,2400.7 889.2,2400.0 C891.2,2399.3 898.4,2414.5 900.4,2415.3 C902.4,2416.1 906.2,2407.6 907.6,2407.1 C908.9,2406.7 910.5,2411.0 912.7,2411.2 C914.8,2411.4 924.2,2410.8 926.9,2409.2 C929.6,2407.6 934.7,2398.3 937.1,2396.9 C939.6,2395.6 947.0,2394.5 949.4,2396.9 C951.7,2399.4 956.6,2419.8 958.6,2419.4 C960.6,2418.9 965.6,2394.5 967.8,2392.9 C969.9,2391.2 975.9,2403.0 978.0,2404.1 C980.0,2405.2 984.1,2403.4 986.1,2403.1 C988.1,2402.7 994.3,2401.0 996.3,2401.0 C998.3,2401.0 1002.9,2401.3 1004.5,2403.1 C1006.1,2404.9 1008.6,2417.2 1010.6,2417.3 C1012.6,2417.5 1020.4,2405.2 1022.9,2404.1 C1025.3,2403.0 1030.8,2407.8 1033.1,2407.1 C1035.3,2406.5 1041.5,2401.1 1043.3,2398.0 C1045.1,2394.8 1048.2,2379.4 1049.4,2378.6 C1050.6,2377.8 1053.4,2386.9 1054.5,2390.8 C1055.6,2394.7 1058.0,2414.3 1059.6,2414.3 C1061.2,2414.3 1066.9,2393.7 1068.8,2390.8 C1070.7,2387.9 1075.4,2387.5 1076.9,2387.8 C1078.5,2388.0 1081.7,2390.7 1083.1,2392.9 C1084.4,2395.0 1087.4,2407.9 1089.2,2407.1 C1091.0,2406.4 1097.3,2385.7 1099.4,2385.7 C1101.5,2385.7 1106.9,2406.8 1108.6,2407.1 C1110.3,2407.5 1113.6,2392.6 1114.7,2388.8 C1115.8,2385.0 1118.4,2374.2 1118.8,2372.4 C1119.1,2370.7 1118.0,2372.4 1117.9,2372.4 L1117.9,2661.4 L187.2,2661.4 Z" fill="#00abab"/>
<path d="M187.2,2420.4 C187.3,2420.4 186.8,2421.3 188.2,2420.4 C189.5,2419.5 197.4,2413.1 199.4,2412.2 C201.4,2411.3 204.8,2411.5 206.5,2412.2 C208.2,2413.0 213.0,2418.9 214.7,2419.4 C216.4,2419.8 220.0,2415.9 221.8,2416.3 C223.6,2416.8 229.1,2423.8 231.0,2423.5 C232.9,2423.1 236.9,2414.8 239.2,2413.3 C241.4,2411.7 249.0,2409.0 251.4,2409.2 C253.9,2409.4 258.9,2414.1 261.6,2415.3 C264.3,2416.5 273.7,2420.0 275.9,2420.4 C278.2,2420.9 280.7,2420.4 282.0,2419.4 C283.4,2418.4 286.4,2410.6 288.2,2411.2 C290.0,2411.9 296.5,2425.6 298.4,2425.5 C300.3,2425.4 303.8,2412.6 305.5,2410.2 C307.2,2407.8 312.1,2406.1 313.7,2404.1 C315.2,2402.1 318.1,2390.0 319.8,2391.8 C321.5,2393.6 325.9,2417.4 329.0,2420.4 C332.0,2423.4 344.4,2420.7 347.3,2419.4 C350.3,2418.0 352.8,2409.1 355.5,2408.2 C358.2,2407.3 369.0,2410.2 371.8,2411.2 C374.6,2412.2 379.3,2414.7 381.0,2417.3 C382.7,2420.0 386.0,2433.5 387.1,2435.7 C388.3,2438.0 390.2,2440.9 391.2,2437.8 C392.2,2434.6 394.9,2411.7 396.3,2407.1 C397.8,2402.5 403.0,2395.5 404.5,2395.9 C405.9,2396.4 408.5,2409.5 409.6,2411.2 C410.7,2412.9 413.0,2415.3 414.7,2411.2 C416.4,2407.2 423.0,2383.0 424.9,2374.5 C426.8,2366.0 430.7,2343.1 432.0,2333.7 C433.4,2324.2 435.7,2295.1 437.1,2288.8 C438.6,2282.5 443.5,2278.3 445.3,2276.5 C447.1,2274.7 451.8,2272.2 453.5,2272.4 C455.2,2272.7 458.8,2274.5 460.6,2278.6 C462.4,2282.6 467.7,2303.3 469.8,2309.2 C471.9,2315.0 478.0,2326.7 480.0,2331.6 C482.0,2336.6 486.1,2349.6 488.2,2354.1 C490.2,2358.6 495.7,2368.5 498.4,2372.4 C501.1,2376.4 509.6,2386.9 512.7,2389.8 C515.7,2392.7 523.3,2398.5 525.9,2399.0 C528.5,2399.4 534.0,2393.8 536.1,2393.9 C538.3,2394.0 542.9,2397.2 545.3,2400.0 C547.7,2402.8 554.9,2414.6 557.6,2419.4 C560.2,2424.2 567.6,2439.8 569.8,2443.9 C572.0,2447.9 576.2,2454.8 578.0,2456.1 C579.8,2457.5 584.4,2457.6 586.1,2456.1 C587.8,2454.7 591.7,2444.7 593.3,2442.9 C594.8,2441.1 598.3,2439.0 600.4,2439.8 C602.5,2440.6 610.4,2447.3 612.7,2450.0 C614.9,2452.7 619.4,2462.8 620.8,2464.3 C622.3,2465.7 624.6,2466.2 625.9,2463.3 C627.3,2460.3 631.6,2441.6 633.1,2437.8 C634.5,2433.9 637.2,2429.7 639.2,2428.6 C641.2,2427.4 649.1,2429.5 651.4,2427.6 C653.8,2425.6 658.6,2412.9 660.6,2411.2 C662.6,2409.5 667.7,2412.1 669.8,2412.2 C671.9,2412.4 678.0,2413.1 680.0,2412.2 C682.0,2411.3 686.6,2405.4 688.2,2404.1 C689.7,2402.7 692.9,2402.2 694.3,2400.0 C695.6,2397.8 699.1,2385.7 700.4,2383.7 C701.8,2381.7 704.7,2381.6 706.5,2381.6 C708.3,2381.6 714.5,2383.4 716.7,2383.7 C719.0,2383.9 724.9,2381.2 726.9,2383.7 C729.0,2386.1 733.5,2403.5 735.1,2406.1 C736.7,2408.7 739.2,2411.1 741.2,2407.1 C743.2,2403.2 750.3,2376.5 753.5,2370.4 C756.6,2364.3 766.7,2357.9 769.8,2352.0 C772.9,2346.2 779.6,2327.0 782.0,2317.3 C784.5,2307.7 790.7,2274.8 792.2,2264.3 C793.8,2253.7 795.3,2228.1 796.3,2221.4 C797.3,2214.8 800.2,2206.0 801.4,2204.1 C802.7,2202.2 806.3,2201.1 807.6,2204.1 C808.8,2207.1 811.5,2221.9 812.7,2231.6 C813.8,2241.4 816.6,2280.3 817.8,2292.9 C818.9,2305.4 821.4,2336.5 822.9,2345.9 C824.3,2355.3 829.4,2373.3 831.0,2378.6 C832.6,2383.8 835.7,2391.3 837.1,2393.9 C838.6,2396.5 842.8,2401.9 844.3,2402.0 C845.7,2402.2 849.1,2394.8 850.4,2394.9 C851.8,2395.0 854.8,2402.7 856.5,2403.1 C858.2,2403.4 864.0,2397.7 865.7,2398.0 C867.4,2398.2 870.4,2402.3 871.8,2405.1 C873.3,2407.9 877.9,2421.7 879.0,2423.5 C880.1,2425.3 880.9,2424.0 882.0,2421.4 C883.2,2418.8 887.2,2400.7 889.2,2400.0 C891.2,2399.3 898.4,2414.5 900.4,2415.3 C902.4,2416.1 906.2,2407.6 907.6,2407.1 C908.9,2406.7 910.5,2411.0 912.7,2411.2 C914.8,2411.4 924.2,2410.8 926.9,2409.2 C929.6,2407.6 934.7,2398.3 937.1,2396.9 C939.6,2395.6 947.0,2394.5 949.4,2396.9 C951.7,2399.4 956.6,2419.8 958.6,2419.4 C960.6,2418.9 965.6,2394.5 967.8,2392.9 C969.9,2391.2 975.9,2403.0 978.0,2404.1 C980.0,2405.2 984.1,2403.4 986.1,2403.1 C988.1,2402.7 994.3,2401.0 996.3,2401.0 C998.3,2401.0 1002.9,2401.3 1004.5,2403.1 C1006.1,2404.9 1008.6,2417.2 1010.6,2417.3 C1012.6,2417.5 1020.4,2405.2 1022.9,2404.1 C1025.3,2403.0 1030.8,2407.8 1033.1,2407.1 C1035.3,2406.5 1041.5,2401.1 1043.3,2398.0 C1045.1,2394.8 1048.2,2379.4 1049.4,2378.6 C1050.6,2377.8 1053.4,2386.9 1054.5,2390.8 C1055.6,2394.7 1058.0,2414.3 1059.6,2414.3 C1061.2,2414.3 1066.9,2393.7 1068.8,2390.8 C1070.7,2387.9 1075.4,2387.5 1076.9,2387.8 C1078.5,2388.0 1081.7,2390.7 1083.1,2392.9 C1084.4,2395.0 1087.4,2407.9 1089.2,2407.1 C1091.0,2406.4 1097.3,2385.7 1099.4,2385.7 C1101.5,2385.7 1106.9,2406.8 1108.6,2407.1 C1110.3,2407.5 1113.6,2392.6 1114.7,2388.8 C1115.8,2385.0 1118.4,2374.2 1118.8,2372.4 C1119.1,2370.7 1118.0,2372.4 1117.9,2372.4" fill="none" stroke="#020d12" stroke-width="4.7" stroke-linejoin="round" stroke-linecap="round" filter="url(#soft2)"/>
<rect x="188.20" y="2647.15" width="6.00" height="3.00" fill="#0a4a50"/>
<rect x="188.20" y="2483.05" width="6.00" height="3.00" fill="#0a4a50"/>
<rect x="188.20" y="2318.95" width="6.00" height="3.00" fill="#0a4a50"/>
<rect x="188.20" y="2154.85" width="6.00" height="3.00" fill="#0a4a50"/>
<rect x="366.15" y="2655.40" width="2.60" height="5.00" fill="#0a5a60"/>
<rect x="731.05" y="2655.40" width="2.60" height="5.00" fill="#0a5a60"/>
<rect x="1095.95" y="2655.40" width="2.60" height="5.00" fill="#0a5a60"/>
<g filter="url(#soft)">
<rect x="182.90" y="2106.10" width="938.70" height="4.00" fill="#0a6a6e"/>
<rect x="182.90" y="2660.40" width="938.70" height="4.70" fill="#08666c"/>
<rect x="183.20" y="2105.50" width="5.00" height="560.20" fill="#06444a"/>
<rect x="1116.90" y="2105.50" width="4.70" height="560.20" fill="#04181c"/>
<rect x="169.40" y="2236.40" width="31.30" height="4.00" fill="#04181c"/>
<rect x="169.40" y="2400.50" width="31.30" height="4.00" fill="#04181c"/>
<rect x="169.40" y="2563.40" width="31.30" height="4.00" fill="#04181c"/>
<rect x="182.90" y="2651.90" width="4.20" height="22.30" fill="#04181c"/>
<rect x="547.80" y="2651.90" width="4.20" height="22.30" fill="#04181c"/>
<rect x="912.60" y="2651.90" width="4.20" height="22.30" fill="#04181c"/>
</g>
<rect x="1154.00" y="2105.50" width="982.50" height="560.20" fill="#00ffff"/>
<path d="M1158.5,2439.8 C1158.5,2439.8 1157.3,2441.4 1158.2,2439.8 C1159.0,2438.2 1164.3,2427.6 1166.3,2425.5 C1168.3,2423.4 1174.8,2421.4 1176.5,2420.4 C1178.2,2419.4 1180.3,2415.3 1181.6,2416.3 C1183.0,2417.3 1187.0,2430.4 1188.8,2429.6 C1190.6,2428.8 1196.1,2410.8 1198.0,2409.2 C1199.9,2407.6 1204.2,2414.6 1206.1,2415.3 C1208.0,2416.0 1213.4,2414.2 1215.3,2415.3 C1217.2,2416.4 1221.7,2423.7 1223.5,2425.5 C1225.3,2427.3 1229.5,2431.5 1231.6,2431.6 C1233.8,2431.7 1240.5,2429.1 1242.9,2426.5 C1245.2,2423.9 1250.7,2409.7 1253.1,2408.2 C1255.4,2406.6 1261.7,2412.5 1264.3,2412.2 C1266.9,2412.0 1274.5,2406.7 1276.5,2406.1 C1278.6,2405.6 1281.0,2405.7 1282.7,2407.1 C1284.3,2408.6 1289.8,2418.8 1291.8,2419.4 C1293.9,2419.9 1299.2,2412.7 1301.0,2412.2 C1302.8,2411.8 1306.4,2416.4 1308.2,2415.3 C1310.0,2414.2 1315.4,2401.8 1317.3,2402.0 C1319.3,2402.3 1323.7,2416.2 1325.5,2417.3 C1327.3,2418.5 1331.4,2412.8 1333.7,2412.2 C1335.9,2411.7 1343.2,2411.7 1345.9,2412.2 C1348.6,2412.8 1355.7,2417.9 1358.2,2417.3 C1360.6,2416.8 1365.7,2408.7 1368.4,2407.1 C1371.1,2405.6 1379.7,2403.1 1382.7,2403.1 C1385.6,2403.1 1392.2,2407.6 1394.9,2407.1 C1397.6,2406.7 1404.9,2400.4 1407.1,2399.0 C1409.4,2397.5 1413.6,2394.9 1415.3,2393.9 C1417.0,2392.9 1420.9,2389.7 1422.4,2389.8 C1424.0,2389.9 1427.9,2392.9 1429.6,2394.9 C1431.3,2396.9 1435.7,2408.2 1437.8,2408.2 C1439.8,2408.2 1445.3,2396.4 1448.0,2394.9 C1450.7,2393.4 1459.8,2394.9 1462.2,2394.9 C1464.7,2394.9 1467.8,2395.1 1470.0,2394.9 C1472.2,2394.7 1479.8,2392.4 1482.2,2392.9 C1484.7,2393.3 1490.4,2398.2 1492.4,2399.0 C1494.5,2399.8 1498.9,2399.3 1500.6,2400.0 C1502.3,2400.7 1506.4,2404.7 1507.8,2405.1 C1509.1,2405.6 1511.6,2407.0 1512.9,2404.1 C1514.1,2401.2 1517.7,2386.3 1519.0,2378.6 C1520.2,2370.8 1523.1,2347.6 1524.1,2333.7 C1525.1,2319.8 1527.2,2267.1 1528.2,2252.0 C1529.2,2237.0 1532.1,2203.4 1533.3,2196.9 C1534.4,2190.4 1537.2,2190.6 1538.4,2192.9 C1539.5,2195.1 1542.0,2210.4 1543.5,2217.3 C1544.9,2224.3 1549.6,2248.7 1551.6,2256.1 C1553.7,2263.5 1559.1,2277.3 1561.8,2284.7 C1564.5,2292.1 1573.4,2317.2 1576.1,2323.5 C1578.8,2329.8 1584.1,2338.5 1586.3,2341.8 C1588.6,2345.2 1594.2,2352.3 1596.5,2354.1 C1598.9,2355.9 1605.7,2356.5 1607.8,2358.2 C1609.8,2359.8 1613.3,2367.9 1614.9,2369.4 C1616.5,2370.8 1620.5,2370.2 1622.0,2371.4 C1623.6,2372.7 1627.5,2379.5 1629.2,2380.6 C1630.9,2381.7 1635.7,2379.4 1637.3,2381.6 C1639.0,2383.9 1643.0,2396.9 1644.5,2401.0 C1645.9,2405.2 1648.3,2417.4 1650.6,2419.4 C1653.0,2421.4 1663.3,2422.3 1665.9,2419.4 C1668.5,2416.5 1672.1,2396.2 1674.1,2392.9 C1676.1,2389.5 1682.4,2389.4 1684.3,2388.8 C1686.2,2388.1 1689.6,2386.1 1691.4,2386.7 C1693.2,2387.4 1698.6,2391.5 1700.6,2394.9 C1702.6,2398.3 1707.9,2412.0 1709.8,2417.3 C1711.7,2422.7 1715.8,2440.7 1718.0,2443.9 C1720.1,2447.0 1727.3,2443.9 1729.2,2445.9 C1731.1,2447.9 1734.0,2460.4 1735.3,2462.2 C1736.7,2464.0 1740.3,2462.7 1741.4,2462.2 C1742.6,2461.8 1744.5,2457.8 1745.5,2458.2 C1746.5,2458.5 1749.4,2464.1 1750.6,2465.3 C1751.8,2466.5 1755.3,2469.9 1756.7,2469.4 C1758.2,2468.8 1762.0,2461.9 1763.9,2460.2 C1765.8,2458.5 1771.7,2454.5 1774.1,2454.1 C1776.4,2453.6 1783.6,2457.7 1785.3,2456.1 C1787.1,2454.6 1788.4,2443.4 1790.0,2439.8 C1791.6,2436.2 1798.2,2426.6 1800.2,2423.5 C1802.2,2420.3 1806.2,2413.6 1808.4,2411.2 C1810.5,2408.9 1817.7,2404.7 1819.6,2402.0 C1821.5,2399.3 1824.5,2388.6 1825.7,2386.7 C1826.9,2384.8 1829.5,2384.5 1830.8,2384.7 C1832.2,2384.9 1836.2,2388.9 1838.0,2388.8 C1839.8,2388.7 1845.1,2385.2 1847.1,2383.7 C1849.2,2382.1 1854.4,2378.2 1856.3,2374.5 C1858.2,2370.8 1862.8,2356.7 1864.5,2350.0 C1866.2,2343.3 1870.4,2318.2 1871.6,2313.3 C1872.9,2308.3 1874.7,2305.9 1875.7,2305.1 C1876.7,2304.3 1879.7,2303.4 1880.8,2306.1 C1881.9,2308.8 1884.7,2322.5 1885.9,2329.6 C1887.2,2336.7 1890.7,2363.4 1892.0,2370.4 C1893.4,2377.4 1896.1,2389.3 1898.2,2392.9 C1900.2,2396.4 1908.4,2402.6 1910.4,2403.1 C1912.4,2403.5 1914.8,2399.0 1916.5,2396.9 C1918.2,2394.9 1923.9,2386.3 1925.7,2384.7 C1927.5,2383.1 1931.3,2380.6 1932.9,2382.7 C1934.4,2384.7 1938.0,2400.5 1940.0,2403.1 C1942.0,2405.6 1949.1,2406.5 1951.2,2406.1 C1953.4,2405.8 1957.4,2400.9 1959.4,2400.0 C1961.4,2399.1 1967.3,2399.0 1969.6,2398.0 C1971.8,2396.9 1978.0,2391.8 1979.8,2390.8 C1981.6,2389.8 1984.3,2387.8 1985.9,2388.8 C1987.5,2389.8 1992.6,2398.9 1994.1,2400.0 C1995.5,2401.1 1998.1,2400.0 1999.2,2399.0 C2000.3,2398.0 2003.1,2391.7 2004.3,2390.8 C2005.5,2389.9 2008.2,2389.8 2010.4,2390.8 C2012.7,2391.8 2022.2,2398.9 2024.7,2400.0 C2027.2,2401.1 2031.1,2399.9 2032.9,2401.0 C2034.7,2402.1 2039.0,2410.3 2041.0,2410.2 C2043.0,2410.1 2049.0,2400.3 2051.2,2400.0 C2053.5,2399.7 2059.2,2406.1 2061.4,2407.1 C2063.7,2408.2 2069.6,2409.2 2071.6,2409.2 C2073.7,2409.2 2077.6,2406.7 2079.8,2407.1 C2082.0,2407.6 2089.2,2413.2 2092.0,2413.3 C2094.8,2413.4 2102.8,2408.1 2105.3,2408.2 C2107.8,2408.3 2112.5,2414.7 2114.5,2414.3 C2116.5,2413.8 2121.7,2404.9 2123.7,2404.1 C2125.7,2403.3 2131.8,2406.8 2132.9,2407.1 C2133.9,2407.5 2132.9,2407.1 2132.9,2407.1 L2132.9,2661.4 L1158.5,2661.4 Z" fill="#00abab"/>
<path d="M1158.5,2439.8 C1158.5,2439.8 1157.3,2441.4 1158.2,2439.8 C1159.0,2438.2 1164.3,2427.6 1166.3,2425.5 C1168.3,2423.4 1174.8,2421.4 1176.5,2420.4 C1178.2,2419.4 1180.3,2415.3 1181.6,2416.3 C1183.0,2417.3 1187.0,2430.4 1188.8,2429.6 C1190.6,2428.8 1196.1,2410.8 1198.0,2409.2 C1199.9,2407.6 1204.2,2414.6 1206.1,2415.3 C1208.0,2416.0 1213.4,2414.2 1215.3,2415.3 C1217.2,2416.4 1221.7,2423.7 1223.5,2425.5 C1225.3,2427.3 1229.5,2431.5 1231.6,2431.6 C1233.8,2431.7 1240.5,2429.1 1242.9,2426.5 C1245.2,2423.9 1250.7,2409.7 1253.1,2408.2 C1255.4,2406.6 1261.7,2412.5 1264.3,2412.2 C1266.9,2412.0 1274.5,2406.7 1276.5,2406.1 C1278.6,2405.6 1281.0,2405.7 1282.7,2407.1 C1284.3,2408.6 1289.8,2418.8 1291.8,2419.4 C1293.9,2419.9 1299.2,2412.7 1301.0,2412.2 C1302.8,2411.8 1306.4,2416.4 1308.2,2415.3 C1310.0,2414.2 1315.4,2401.8 1317.3,2402.0 C1319.3,2402.3 1323.7,2416.2 1325.5,2417.3 C1327.3,2418.5 1331.4,2412.8 1333.7,2412.2 C1335.9,2411.7 1343.2,2411.7 1345.9,2412.2 C1348.6,2412.8 1355.7,2417.9 1358.2,2417.3 C1360.6,2416.8 1365.7,2408.7 1368.4,2407.1 C1371.1,2405.6 1379.7,2403.1 1382.7,2403.1 C1385.6,2403.1 1392.2,2407.6 1394.9,2407.1 C1397.6,2406.7 1404.9,2400.4 1407.1,2399.0 C1409.4,2397.5 1413.6,2394.9 1415.3,2393.9 C1417.0,2392.9 1420.9,2389.7 1422.4,2389.8 C1424.0,2389.9 1427.9,2392.9 1429.6,2394.9 C1431.3,2396.9 1435.7,2408.2 1437.8,2408.2 C1439.8,2408.2 1445.3,2396.4 1448.0,2394.9 C1450.7,2393.4 1459.8,2394.9 1462.2,2394.9 C1464.7,2394.9 1467.8,2395.1 1470.0,2394.9 C1472.2,2394.7 1479.8,2392.4 1482.2,2392.9 C1484.7,2393.3 1490.4,2398.2 1492.4,2399.0 C1494.5,2399.8 1498.9,2399.3 1500.6,2400.0 C1502.3,2400.7 1506.4,2404.7 1507.8,2405.1 C1509.1,2405.6 1511.6,2407.0 1512.9,2404.1 C1514.1,2401.2 1517.7,2386.3 1519.0,2378.6 C1520.2,2370.8 1523.1,2347.6 1524.1,2333.7 C1525.1,2319.8 1527.2,2267.1 1528.2,2252.0 C1529.2,2237.0 1532.1,2203.4 1533.3,2196.9 C1534.4,2190.4 1537.2,2190.6 1538.4,2192.9 C1539.5,2195.1 1542.0,2210.4 1543.5,2217.3 C1544.9,2224.3 1549.6,2248.7 1551.6,2256.1 C1553.7,2263.5 1559.1,2277.3 1561.8,2284.7 C1564.5,2292.1 1573.4,2317.2 1576.1,2323.5 C1578.8,2329.8 1584.1,2338.5 1586.3,2341.8 C1588.6,2345.2 1594.2,2352.3 1596.5,2354.1 C1598.9,2355.9 1605.7,2356.5 1607.8,2358.2 C1609.8,2359.8 1613.3,2367.9 1614.9,2369.4 C1616.5,2370.8 1620.5,2370.2 1622.0,2371.4 C1623.6,2372.7 1627.5,2379.5 1629.2,2380.6 C1630.9,2381.7 1635.7,2379.4 1637.3,2381.6 C1639.0,2383.9 1643.0,2396.9 1644.5,2401.0 C1645.9,2405.2 1648.3,2417.4 1650.6,2419.4 C1653.0,2421.4 1663.3,2422.3 1665.9,2419.4 C1668.5,2416.5 1672.1,2396.2 1674.1,2392.9 C1676.1,2389.5 1682.4,2389.4 1684.3,2388.8 C1686.2,2388.1 1689.6,2386.1 1691.4,2386.7 C1693.2,2387.4 1698.6,2391.5 1700.6,2394.9 C1702.6,2398.3 1707.9,2412.0 1709.8,2417.3 C1711.7,2422.7 1715.8,2440.7 1718.0,2443.9 C1720.1,2447.0 1727.3,2443.9 1729.2,2445.9 C1731.1,2447.9 1734.0,2460.4 1735.3,2462.2 C1736.7,2464.0 1740.3,2462.7 1741.4,2462.2 C1742.6,2461.8 1744.5,2457.8 1745.5,2458.2 C1746.5,2458.5 1749.4,2464.1 1750.6,2465.3 C1751.8,2466.5 1755.3,2469.9 1756.7,2469.4 C1758.2,2468.8 1762.0,2461.9 1763.9,2460.2 C1765.8,2458.5 1771.7,2454.5 1774.1,2454.1 C1776.4,2453.6 1783.6,2457.7 1785.3,2456.1 C1787.1,2454.6 1788.4,2443.4 1790.0,2439.8 C1791.6,2436.2 1798.2,2426.6 1800.2,2423.5 C1802.2,2420.3 1806.2,2413.6 1808.4,2411.2 C1810.5,2408.9 1817.7,2404.7 1819.6,2402.0 C1821.5,2399.3 1824.5,2388.6 1825.7,2386.7 C1826.9,2384.8 1829.5,2384.5 1830.8,2384.7 C1832.2,2384.9 1836.2,2388.9 1838.0,2388.8 C1839.8,2388.7 1845.1,2385.2 1847.1,2383.7 C1849.2,2382.1 1854.4,2378.2 1856.3,2374.5 C1858.2,2370.8 1862.8,2356.7 1864.5,2350.0 C1866.2,2343.3 1870.4,2318.2 1871.6,2313.3 C1872.9,2308.3 1874.7,2305.9 1875.7,2305.1 C1876.7,2304.3 1879.7,2303.4 1880.8,2306.1 C1881.9,2308.8 1884.7,2322.5 1885.9,2329.6 C1887.2,2336.7 1890.7,2363.4 1892.0,2370.4 C1893.4,2377.4 1896.1,2389.3 1898.2,2392.9 C1900.2,2396.4 1908.4,2402.6 1910.4,2403.1 C1912.4,2403.5 1914.8,2399.0 1916.5,2396.9 C1918.2,2394.9 1923.9,2386.3 1925.7,2384.7 C1927.5,2383.1 1931.3,2380.6 1932.9,2382.7 C1934.4,2384.7 1938.0,2400.5 1940.0,2403.1 C1942.0,2405.6 1949.1,2406.5 1951.2,2406.1 C1953.4,2405.8 1957.4,2400.9 1959.4,2400.0 C1961.4,2399.1 1967.3,2399.0 1969.6,2398.0 C1971.8,2396.9 1978.0,2391.8 1979.8,2390.8 C1981.6,2389.8 1984.3,2387.8 1985.9,2388.8 C1987.5,2389.8 1992.6,2398.9 1994.1,2400.0 C1995.5,2401.1 1998.1,2400.0 1999.2,2399.0 C2000.3,2398.0 2003.1,2391.7 2004.3,2390.8 C2005.5,2389.9 2008.2,2389.8 2010.4,2390.8 C2012.7,2391.8 2022.2,2398.9 2024.7,2400.0 C2027.2,2401.1 2031.1,2399.9 2032.9,2401.0 C2034.7,2402.1 2039.0,2410.3 2041.0,2410.2 C2043.0,2410.1 2049.0,2400.3 2051.2,2400.0 C2053.5,2399.7 2059.2,2406.1 2061.4,2407.1 C2063.7,2408.2 2069.6,2409.2 2071.6,2409.2 C2073.7,2409.2 2077.6,2406.7 2079.8,2407.1 C2082.0,2407.6 2089.2,2413.2 2092.0,2413.3 C2094.8,2413.4 2102.8,2408.1 2105.3,2408.2 C2107.8,2408.3 2112.5,2414.7 2114.5,2414.3 C2116.5,2413.8 2121.7,2404.9 2123.7,2404.1 C2125.7,2403.3 2131.8,2406.8 2132.9,2407.1 C2133.9,2407.5 2132.9,2407.1 2132.9,2407.1" fill="none" stroke="#020d12" stroke-width="4.7" stroke-linejoin="round" stroke-linecap="round" filter="url(#soft2)"/>
<rect x="1159.50" y="2647.10" width="6.00" height="3.00" fill="#0a4a50"/>
<rect x="1159.50" y="2483.10" width="6.00" height="3.00" fill="#0a4a50"/>
<rect x="1159.50" y="2319.10" width="6.00" height="3.00" fill="#0a4a50"/>
<rect x="1159.50" y="2155.10" width="6.00" height="3.00" fill="#0a4a50"/>
<rect x="1345.80" y="2655.40" width="2.60" height="5.00" fill="#0a5a60"/>
<rect x="1727.80" y="2655.40" width="2.60" height="5.00" fill="#0a5a60"/>
<rect x="2109.80" y="2655.40" width="2.60" height="5.00" fill="#0a5a60"/>
<g filter="url(#soft)">
<rect x="1154.00" y="2106.10" width="982.50" height="4.00" fill="#0a6a6e"/>
<rect x="1154.00" y="2660.40" width="982.50" height="4.70" fill="#08666c"/>
<rect x="1154.30" y="2105.50" width="5.20" height="560.20" fill="#06444a"/>
<rect x="2131.90" y="2105.50" width="4.60" height="560.20" fill="#04181c"/>
<rect x="1140.50" y="2236.60" width="31.50" height="4.00" fill="#04181c"/>
<rect x="1140.50" y="2400.60" width="31.50" height="4.00" fill="#04181c"/>
<rect x="1140.50" y="2563.40" width="31.50" height="4.00" fill="#04181c"/>
<rect x="1154.00" y="2651.90" width="4.20" height="22.30" fill="#04181c"/>
<rect x="1536.00" y="2651.90" width="4.20" height="22.30" fill="#04181c"/>
<rect x="1918.00" y="2651.90" width="4.20" height="22.30" fill="#04181c"/>
</g>
<g filter="url(#softt)">
<text transform="matrix(1.1991 0 0 0.9108 108.70 876.89)" font-size="40" font-family="'Liberation Serif', 'DejaVu Serif', serif" font-weight="bold" fill="#000" stroke="#fff" stroke-width="0.30" stroke-linejoin="round">0.5</text>
<text transform="matrix(1.2043 0 0 0.8922 108.69 1039.60)" font-size="40" font-family="'Liberation Serif', 'DejaVu Serif', serif" font-weight="bold" fill="#000" stroke="#fff" stroke-width="0.30" stroke-linejoin="round">0.0</text>
<text transform="matrix(1.2189 0 0 0.8922 91.41 1202.60)" font-size="40" font-family="'Liberation Serif', 'DejaVu Serif', serif" font-weight="bold" fill="#000" stroke="#fff" stroke-width="0.30" stroke-linejoin="round">-0.5</text>
<text transform="matrix(1.2485 0 0 0.8652 181.62 1334.38)" font-size="40" font-family="'Liberation Serif', 'DejaVu Serif', serif" font-weight="bold" fill="#000" stroke="#fff" stroke-width="0.30" stroke-linejoin="round">0</text>
<text transform="matrix(1.1858 0 0 0.9176 528.52 1334.97)" font-size="40" font-family="'Liberation Serif', 'DejaVu Serif', serif" font-weight="bold" fill="#000" stroke="#fff" stroke-width="0.30" stroke-linejoin="round">250</text>
<text transform="matrix(1.1858 0 0 0.8951 897.72 1334.68)" font-size="40" font-family="'Liberation Serif', 'DejaVu Serif', serif" font-weight="bold" fill="#000" stroke="#fff" stroke-width="0.30" stroke-linejoin="round">500</text>
<text transform="matrix(1.2029 0 0 0.9483 1072.00 1331.39)" font-size="40" font-family="'Liberation Serif', 'DejaVu Serif', serif" font-weight="bold" fill="#000" stroke="#fff" stroke-width="0.30" stroke-linejoin="round">µm</text>
<text transform="matrix(0 -0.9058 1.2640 0 47.91 1095.04)" font-size="40" font-family="'Liberation Serif', 'DejaVu Serif', serif" font-weight="bold" fill="#000" stroke="#000" stroke-width="0.90" stroke-linejoin="round">Height (µm)</text>
<text transform="matrix(1.2970 0 0 0.8727 1164.73 1334.58)" font-size="40" font-family="'Liberation Serif', 'DejaVu Serif', serif" font-weight="bold" fill="#000" stroke="#fff" stroke-width="0.30" stroke-linejoin="round">0</text>
<text transform="matrix(1.1858 0 0 0.8989 1519.52 1334.58)" font-size="40" font-family="'Liberation Serif', 'DejaVu Serif', serif" font-weight="bold" fill="#000" stroke="#fff" stroke-width="0.30" stroke-linejoin="round">250</text>
<text transform="matrix(1.2071 0 0 0.8914 1897.39 1334.38)" font-size="40" font-family="'Liberation Serif', 'DejaVu Serif', serif" font-weight="bold" fill="#000" stroke="#fff" stroke-width="0.30" stroke-linejoin="round">500</text>
<text transform="matrix(1.2322 0 0 0.9004 2073.48 1333.79)" font-size="40" font-family="'Liberation Serif', 'DejaVu Serif', serif" font-weight="bold" fill="#000" stroke="#fff" stroke-width="0.30" stroke-linejoin="round">µm</text>
<text transform="matrix(1.1991 0 0 0.9108 101.70 2249.69)" font-size="40" font-family="'Liberation Serif', 'DejaVu Serif', serif" font-weight="bold" fill="#000" stroke="#fff" stroke-width="0.30" stroke-linejoin="round">0.5</text>
<text transform="matrix(1.2043 0 0 0.8848 101.69 2413.20)" font-size="40" font-family="'Liberation Serif', 'DejaVu Serif', serif" font-weight="bold" fill="#000" stroke="#fff" stroke-width="0.30" stroke-linejoin="round">0.0</text>
<text transform="matrix(1.1990 0 0 0.8736 85.64 2576.21)" font-size="40" font-family="'Liberation Serif', 'DejaVu Serif', serif" font-weight="bold" fill="#000" stroke="#fff" stroke-width="0.30" stroke-linejoin="round">-0.5</text>
<text transform="matrix(1.3394 0 0 0.8240 171.46 2708.79)" font-size="40" font-family="'Liberation Serif', 'DejaVu Serif', serif" font-weight="bold" fill="#000" stroke="#fff" stroke-width="0.30" stroke-linejoin="round">0</text>
<text transform="matrix(1.1858 0 0 0.8801 514.32 2709.78)" font-size="40" font-family="'Liberation Serif', 'DejaVu Serif', serif" font-weight="bold" fill="#000" stroke="#fff" stroke-width="0.30" stroke-linejoin="round">250</text>
<text transform="matrix(1.1947 0 0 0.8427 879.41 2709.29)" font-size="40" font-family="'Liberation Serif', 'DejaVu Serif', serif" font-weight="bold" fill="#000" stroke="#fff" stroke-width="0.30" stroke-linejoin="round">500</text>
<text transform="matrix(1.1737 0 0 0.9041 1049.52 2712.16)" font-size="40" font-family="'Liberation Serif', 'DejaVu Serif', serif" font-weight="bold" fill="#000" stroke="#fff" stroke-width="0.30" stroke-linejoin="round">µm</text>
<text transform="matrix(0 -0.9112 1.2293 0 41.13 2469.24)" font-size="40" font-family="'Liberation Serif', 'DejaVu Serif', serif" font-weight="bold" fill="#000" stroke="#000" stroke-width="0.90" stroke-linejoin="round">Height (µm)</text>
<text transform="matrix(1.3394 0 0 0.8352 1142.56 2709.09)" font-size="40" font-family="'Liberation Serif', 'DejaVu Serif', serif" font-weight="bold" fill="#000" stroke="#fff" stroke-width="0.30" stroke-linejoin="round">0</text>
<text transform="matrix(1.1858 0 0 0.9176 1502.52 2710.27)" font-size="40" font-family="'Liberation Serif', 'DejaVu Serif', serif" font-weight="bold" fill="#000" stroke="#fff" stroke-width="0.30" stroke-linejoin="round">250</text>
<text transform="matrix(1.2389 0 0 0.9176 1883.63 2710.27)" font-size="40" font-family="'Liberation Serif', 'DejaVu Serif', serif" font-weight="bold" fill="#000" stroke="#fff" stroke-width="0.30" stroke-linejoin="round">500</text>
<text transform="matrix(1.2157 0 0 0.9041 2066.79 2706.36)" font-size="40" font-family="'Liberation Serif', 'DejaVu Serif', serif" font-weight="bold" fill="#000" stroke="#fff" stroke-width="0.30" stroke-linejoin="round">µm</text>
</g>
<clipPath id="clip1"><polygon points="199.0,530.0 203.5,547.0 699.0,650.5 805.5,388.0 405.0,326.0"/></clipPath>
<g fill="none" stroke="#808080" stroke-width="1.7" filter="url(#soft)">
<path d="M198.5,515.0 L403.0,310.6 L807.9,374.2 L697.7,655.7"/>
<path d="M403.0,310.6 L405.0,326.0"/>
<path d="M803.4,375.2 L693.2,653.7" stroke="#9a9a9a" stroke-width="1.2"/>
</g>
<g filter="url(#soft2)">
<polygon points="199.0,530.0 203.5,547.0 699.0,650.5 805.5,388.0 405.0,326.0" fill="#0a9528"/>
<polygon points="199.0,530.0 203.5,547.0 699.0,650.5 805.5,388.0 405.0,326.0" fill="#000" filter="url(#tex)"/>
<polygon points="199.0,530.0 203.5,547.0 699.0,650.5 805.5,388.0 405.0,326.0" fill="#000" filter="url(#texS1)"/>
<g clip-path="url(#clip1)">
<polygon points="367.7,608.4 389.9,566.6 418.3,526.1 441.7,484.7 467.8,443.9 490.5,402.5 520.0,362.4 544.4,321.5 689.9,343.1 668.1,386.0 644.8,428.8 627.6,472.7 604.9,515.6 583.0,558.7 565.9,602.8 543.4,645.9" fill="#09a11f" filter="url(#b3)"/>
<polygon points="470.7,635.7 525.2,647.5 682.6,336.5 628.5,328.5" fill="#0c9458" opacity="0.7" filter="url(#b6)"/>
<polygon points="538.1,644.7 557.1,601.0 582.0,558.5 601.9,515.0 618.3,471.0 639.8,428.0 662.0,385.1 688.1,342.8 694.0,343.7 668.4,386.1 650.2,429.7 629.7,473.0 606.9,516.0 582.5,558.6 562.4,602.1 545.7,646.3" fill="#6a9a20" opacity="0.6" filter="url(#b3)"/>
<polygon points="358.0,572.0 362.0,562.0 400.0,508.0 428.0,474.0 458.0,438.0 484.0,383.0 505.0,340.0 512.0,318.0 565.0,330.0 557.0,350.0 411.0,592.0" fill="#09a11f" opacity="1" filter="url(#b3)"/>
<polygon points="339.0,566.0 344.6,555.8 378.3,508.2 417.9,470.5 443.7,438.8 467.5,383.3 489.3,339.7 495.0,322.0 538.0,322.0 533.0,333.0 520.0,339.7 501.2,379.3 473.4,438.8 437.0,478.4 423.9,498.3 384.0,555.8 378.0,570.0" fill="#96941f" opacity="0.95" filter="url(#b3)"/>
<polygon points="352.0,566.0 388.0,508.0 426.0,470.0 452.0,438.0 478.0,383.0 500.0,340.0 505.0,322.0 522.0,322.0 510.0,340.0 492.0,380.0 466.0,438.0 428.0,484.0 412.0,505.0 372.0,566.0" fill="#b08a1e" opacity="0.5" filter="url(#b3)"/>
</g></g>
<g filter="url(#softt)">
<path d="M197.8,554.7 L762.9,671.6" stroke="#000" stroke-width="6.3" stroke-linecap="butt"/>
<polygon points="779.5,675.0 753.4,679.3 760.9,671.2 757.2,660.7" fill="#000"/>
<path d="M197.8,554.7 L180.0,473.8" stroke="#000" stroke-width="6.3" stroke-linecap="butt"/>
<polygon points="176.6,458.2 190.9,479.0 180.5,475.8 172.3,483.1" fill="#000"/>
<circle cx="197.8" cy="554.7" r="3.4" fill="#000"/>
</g>
<clipPath id="clip2"><polygon points="1224.6,527.0 1229.0,545.0 1718.0,647.5 1822.9,388.4 1425.0,329.0"/></clipPath>
<g fill="none" stroke="#808080" stroke-width="1.7" filter="url(#soft)">
<path d="M1221.5,517.0 L1425.0,313.4 L1825.4,375.9 L1716.9,654.0"/>
<path d="M1425.0,313.4 L1425.0,329.0"/>
<path d="M1820.9,376.9 L1712.4,652.0" stroke="#9a9a9a" stroke-width="1.2"/>
</g>
<g filter="url(#soft2)">
<polygon points="1224.6,527.0 1229.0,545.0 1718.0,647.5 1822.9,388.4 1425.0,329.0" fill="#0a9528"/>
<polygon points="1224.6,527.0 1229.0,545.0 1718.0,647.5 1822.9,388.4 1425.0,329.0" fill="#000" filter="url(#tex)"/>
<polygon points="1224.6,527.0 1229.0,545.0 1718.0,647.5 1822.9,388.4 1425.0,329.0" fill="#000" filter="url(#texS0)"/>
<g clip-path="url(#clip2)">
<polygon points="1330.9,592.7 1368.3,555.4 1397.6,516.4 1436.0,479.1 1468.9,440.7 1502.0,402.2 1535.0,363.6 1567.5,324.8 1685.6,341.6 1660.1,382.9 1638.4,424.9 1612.9,466.2 1591.3,508.2 1563.7,549.1 1544.7,591.7 1518.2,632.8" fill="#09a11f" filter="url(#b3)"/>
<polygon points="1390.9,610.8 1454.5,624.6 1650.9,331.5 1587.2,322.5" fill="#0c9458" opacity="0.7" filter="url(#b6)"/>
<polygon points="1507.5,630.5 1528.5,588.4 1560.1,548.4 1581.3,506.4 1611.5,466.0 1632.2,423.8 1658.3,382.6 1684.3,341.4 1702.4,343.9 1683.2,386.5 1660.6,428.6 1638.8,470.8 1612.9,512.3 1599.1,556.1 1575.2,598.0 1551.6,640.0" fill="#a48e20" opacity="0.95" filter="url(#b3)"/>
<polygon points="1520.5,633.3 1550.1,592.9 1571.6,550.7 1598.4,509.6 1621.3,467.7 1645.1,426.0 1663.1,383.4 1689.7,342.1 1698.9,343.4 1674.6,385.2 1658.6,428.2 1632.8,469.7 1603.2,510.5 1582.1,552.8 1557.9,594.5 1541.1,637.7" fill="#b8801e" opacity="0.6" filter="url(#b3)"/>
<path d="M1621.9,517.9 L1633.4,501.1" stroke="#c8301a" stroke-width="8" stroke-linecap="round" filter="url(#soft2)"/>
<path d="M1609.6,545.4 L1617.2,536.0" stroke="#c8401a" stroke-width="6" stroke-linecap="round" filter="url(#soft2)"/>
</g></g>
<g filter="url(#softt)">
<path d="M1223.9,556.2 L1787.0,670.6" stroke="#000" stroke-width="6.3" stroke-linecap="butt"/>
<polygon points="1803.7,674.0 1777.6,678.4 1785.1,670.2 1781.4,659.8" fill="#000"/>
<path d="M1223.9,556.2 L1205.9,480.8" stroke="#000" stroke-width="6.3" stroke-linecap="butt"/>
<polygon points="1202.2,465.2 1216.9,485.8 1206.4,482.7 1198.4,490.2" fill="#000"/>
<circle cx="1223.9" cy="556.2" r="3.4" fill="#000"/>
</g>
<clipPath id="clip3"><polygon points="216.0,1886.6 222.0,1899.0 723.0,2007.0 829.6,1745.1 421.2,1684.9"/></clipPath>
<g fill="none" stroke="#808080" stroke-width="1.7" filter="url(#soft)">
<path d="M213.0,1873.5 L421.2,1669.4 L832.1,1735.1 L721.0,2012.3"/>
<path d="M421.2,1669.4 L421.2,1684.9"/>
<path d="M827.6,1736.1 L716.5,2010.3" stroke="#9a9a9a" stroke-width="1.2"/>
</g>
<g filter="url(#soft2)">
<polygon points="216.0,1886.6 222.0,1899.0 723.0,2007.0 829.6,1745.1 421.2,1684.9" fill="#0a9528"/>
<polygon points="216.0,1886.6 222.0,1899.0 723.0,2007.0 829.6,1745.1 421.2,1684.9" fill="#000" filter="url(#tex)"/>
<polygon points="216.0,1886.6 222.0,1899.0 723.0,2007.0 829.6,1745.1 421.2,1684.9" fill="#000" filter="url(#texS2)"/>
<g clip-path="url(#clip3)">
<polygon points="538.1,2000.0 710.2,2038.4 842.4,1713.7 689.0,1692.5" fill="#5a8a1c" opacity="0.35" filter="url(#b6)"/>
<polygon points="198.1,1924.7 299.0,1947.2 538.3,1672.1 445.1,1659.2" fill="#5a8a1c" opacity="0.2" filter="url(#b6)"/>
<polygon points="312.8,1944.9 344.5,1906.6 378.4,1868.8 412.8,1830.9 442.2,1792.1 476.2,1754.1 512.3,1716.3 542.1,1677.5 679.0,1696.5 657.0,1738.5 634.2,1780.4 615.9,1823.3 590.5,1864.8 572.6,1907.9 551.5,1950.4 530.7,1993.0" fill="#09a11f" filter="url(#b3)"/>
<polygon points="384.8,1966.2 450.5,1980.6 626.1,1683.9 592.4,1679.4" fill="#0a9874" opacity="0.85" filter="url(#b6)"/>
<path d="M549.3,1961.3 L573.7,1928.0" stroke="#c05a1a" stroke-width="7" stroke-linecap="round" filter="url(#soft2)"/>
<path d="M631.1,1876.5 L649.4,1847.1" stroke="#b0701a" stroke-width="5" stroke-linecap="round" filter="url(#soft2)"/>
<path d="M468.2,1813.9 L480.7,1800.5" stroke="#b06a1a" stroke-width="7" stroke-linecap="round" filter="url(#soft2)"/>
<path d="M480.6,1718.7 L491.8,1707.8" stroke="#b8501a" stroke-width="7" stroke-linecap="round" filter="url(#soft2)"/>
<path d="M488.1,1745.2 L500.8,1731.9" stroke="#b05a1a" stroke-width="6" stroke-linecap="round" filter="url(#soft2)"/>
<path d="M407.3,1828.4 L418.6,1817.6" stroke="#a8701a" stroke-width="5" stroke-linecap="round" filter="url(#soft2)"/>
</g></g>
<g filter="url(#softt)">
<path d="M218.8,1907.5 L776.2,2026.4" stroke="#000" stroke-width="6.3" stroke-linecap="butt"/>
<polygon points="792.8,2029.9 766.7,2034.0 774.2,2025.9 770.6,2015.5" fill="#000"/>
<path d="M218.8,1907.5 L194.7,1838.7" stroke="#000" stroke-width="6.3" stroke-linecap="butt"/>
<polygon points="189.4,1823.6 206.1,1842.5 195.4,1840.6 188.2,1848.8" fill="#000"/>
<circle cx="218.8" cy="1907.5" r="3.4" fill="#000"/>
</g>
<clipPath id="clip4"><polygon points="1188.8,1882.4 1194.0,1903.0 1700.0,2010.5 1810.4,1740.0 1397.1,1676.7"/></clipPath>
<g fill="none" stroke="#808080" stroke-width="1.7" filter="url(#soft)">
<path d="M1185.5,1872.0 L1397.1,1662.4 L1812.9,1727.6 L1698.5,2016.5"/>
<path d="M1397.1,1662.4 L1397.1,1676.7"/>
<path d="M1808.4,1728.6 L1694.0,2014.5" stroke="#9a9a9a" stroke-width="1.2"/>
</g>
<g filter="url(#soft2)">
<polygon points="1188.8,1882.4 1194.0,1903.0 1700.0,2010.5 1810.4,1740.0 1397.1,1676.7" fill="#0a9528"/>
<polygon points="1188.8,1882.4 1194.0,1903.0 1700.0,2010.5 1810.4,1740.0 1397.1,1676.7" fill="#000" filter="url(#tex)"/>
<polygon points="1188.8,1882.4 1194.0,1903.0 1700.0,2010.5 1810.4,1740.0 1397.1,1676.7" fill="#000" filter="url(#texS3)"/>
<g clip-path="url(#clip4)">
<polygon points="1562.9,2015.6 1686.8,2043.0 1823.6,1707.5 1672.2,1685.2" fill="#5a8a1c" opacity="0.3" filter="url(#b6)"/>
<polygon points="1169.6,1930.2 1324.8,1964.0 1542.1,1666.9 1421.5,1649.5" fill="#5a8a1c" opacity="0.15" filter="url(#b6)"/>
<polygon points="1346.3,1963.1 1374.2,1921.5 1404.7,1880.3 1432.4,1838.7 1466.5,1798.2 1495.2,1756.7 1523.5,1715.2 1552.8,1673.8 1663.5,1689.9 1645.1,1734.4 1628.2,1779.3 1615.2,1825.1 1597.6,1870.2 1581.4,1915.7 1566.8,1961.7 1555.5,2008.6" fill="#09a11f" filter="url(#b3)"/>
<polygon points="1451.5,1991.3 1496.1,2001.2 1642.7,1681.2 1588.0,1673.1" fill="#0a9668" opacity="0.8" filter="url(#b6)"/>
<polygon points="1339.6,1961.7 1364.7,1919.5 1400.1,1879.4 1424.6,1837.2 1457.5,1796.6 1487.0,1755.3 1514.1,1713.7 1547.5,1673.0 1553.9,1674.0 1521.4,1714.8 1498.9,1757.3 1462.9,1797.5 1436.3,1839.4 1403.7,1880.1 1373.8,1921.4 1349.0,1963.7" fill="#7e9a20" opacity="0.9" filter="url(#b3)"/>
</g></g>
<g filter="url(#softt)">
<path d="M1190.2,1911.7 L1745.4,2030.4" stroke="#000" stroke-width="6.3" stroke-linecap="butt"/>
<polygon points="1762.0,2034.0 1735.9,2038.1 1743.4,2030.0 1739.8,2019.5" fill="#000"/>
<path d="M1190.2,1911.7 L1169.8,1835.6" stroke="#000" stroke-width="6.3" stroke-linecap="butt"/>
<polygon points="1165.7,1820.1 1180.9,1840.3 1170.4,1837.5 1162.6,1845.2" fill="#000"/>
<circle cx="1190.2" cy="1911.7" r="3.4" fill="#000"/>
</g>
<rect x="1046.5" y="85.6" width="26.2" height="327.4" fill="url(#cb)" filter="url(#soft3)"/>
<rect x="1072.70" y="261.00" width="12.00" height="2.00" fill="#808080"/>
<rect x="2060.7" y="80.5" width="26.8" height="344.0" fill="url(#cb)" filter="url(#soft3)"/>
<rect x="2087.50" y="264.90" width="12.00" height="2.00" fill="#808080"/>
<rect x="1073.0" y="1437.6" width="27.4" height="340.1" fill="url(#cb)" filter="url(#soft3)"/>
<rect x="1100.40" y="1621.40" width="12.00" height="2.00" fill="#808080"/>
<rect x="2056.0" y="1429.5" width="26.4" height="347.5" fill="url(#cb)" filter="url(#soft3)"/>
<rect x="2082.40" y="1613.40" width="12.00" height="2.00" fill="#808080"/>
<g filter="url(#softt)">
<text transform="matrix(1.0751 0 0 0.9861 114.76 105.47)" font-size="100" font-family="'Liberation Serif', 'DejaVu Serif', serif" font-weight="bold" fill="#000" stroke="#fff" stroke-width="0.75" stroke-linejoin="round">(a)</text>
<text transform="matrix(1.0909 0 0 0.9928 1200.68 105.63)" font-size="100" font-family="'Liberation Serif', 'DejaVu Serif', serif" font-weight="bold" fill="#000" stroke="#fff" stroke-width="0.75" stroke-linejoin="round">(b)</text>
<text transform="matrix(1.0904 0 0 0.9751 117.88 1504.40)" font-size="100" font-family="'Liberation Serif', 'DejaVu Serif', serif" font-weight="bold" fill="#000" stroke="#fff" stroke-width="0.75" stroke-linejoin="round">(c)</text>
<text transform="matrix(1.0865 0 0 0.9784 1200.90 1504.33)" font-size="100" font-family="'Liberation Serif', 'DejaVu Serif', serif" font-weight="bold" fill="#000" stroke="#fff" stroke-width="0.75" stroke-linejoin="round">(d)</text>
<text transform="matrix(1.3036 0 0 1.0576 926.13 72.76)" font-size="40" font-family="'Liberation Serif', 'DejaVu Serif', serif" font-weight="bold" fill="#000" stroke="#fff" stroke-width="0.30" stroke-linejoin="round">1.5µm</text>
<text transform="matrix(1.3152 0 0 1.1311 1116.40 270.32)" font-size="40" font-family="'Liberation Serif', 'DejaVu Serif', serif" font-weight="bold" fill="#000" stroke="#fff" stroke-width="0.30" stroke-linejoin="round">0</text>
<text transform="matrix(1.2915 0 0 1.1289 780.80 358.16)" font-size="40" font-family="'Liberation Serif', 'DejaVu Serif', serif" font-weight="bold" fill="#000" stroke="#fff" stroke-width="0.30" stroke-linejoin="round">643.168µm</text>
<text transform="matrix(1.3061 0 0 1.0787 964.49 471.31)" font-size="40" font-family="'Liberation Serif', 'DejaVu Serif', serif" font-weight="bold" fill="#000" stroke="#fff" stroke-width="0.30" stroke-linejoin="round">− 1.4</text>
<text transform="matrix(1.3576 0 0 1.1536 186.82 621.61)" font-size="40" font-family="'Liberation Serif', 'DejaVu Serif', serif" font-weight="bold" fill="#000" stroke="#fff" stroke-width="0.30" stroke-linejoin="round">0</text>
<text transform="matrix(1.2873 0 0 1.1182 442.70 699.15)" font-size="40" font-family="'Liberation Serif', 'DejaVu Serif', serif" font-weight="bold" fill="#000" stroke="#fff" stroke-width="0.30" stroke-linejoin="round">646.116µm</text>
<text transform="matrix(1.3017 0 0 1.0749 1951.44 56.22)" font-size="40" font-family="'Liberation Serif', 'DejaVu Serif', serif" font-weight="bold" fill="#000" stroke="#fff" stroke-width="0.30" stroke-linejoin="round">1.5µm</text>
<text transform="matrix(1.3455 0 0 1.0936 2123.65 272.63)" font-size="40" font-family="'Liberation Serif', 'DejaVu Serif', serif" font-weight="bold" fill="#000" stroke="#fff" stroke-width="0.30" stroke-linejoin="round">0</text>
<text transform="matrix(1.2871 0 0 1.1003 1796.30 358.00)" font-size="40" font-family="'Liberation Serif', 'DejaVu Serif', serif" font-weight="bold" fill="#000" stroke="#fff" stroke-width="0.30" stroke-linejoin="round">643.168µm</text>
<text transform="matrix(1.3036 0 0 1.0487 1990.20 488.13)" font-size="40" font-family="'Liberation Serif', 'DejaVu Serif', serif" font-weight="bold" fill="#000" stroke="#fff" stroke-width="0.30" stroke-linejoin="round">− 1.4</text>
<text transform="matrix(1.3576 0 0 1.1536 1208.92 616.71)" font-size="40" font-family="'Liberation Serif', 'DejaVu Serif', serif" font-weight="bold" fill="#000" stroke="#fff" stroke-width="0.30" stroke-linejoin="round">0</text>
<text transform="matrix(1.2807 0 0 1.1383 1433.31 687.48)" font-size="40" font-family="'Liberation Serif', 'DejaVu Serif', serif" font-weight="bold" fill="#000" stroke="#fff" stroke-width="0.30" stroke-linejoin="round">646.116µm</text>
<text transform="matrix(1.2801 0 0 1.0749 972.41 1416.92)" font-size="40" font-family="'Liberation Serif', 'DejaVu Serif', serif" font-weight="bold" fill="#000" stroke="#fff" stroke-width="0.30" stroke-linejoin="round">1.5µm</text>
<text transform="matrix(1.3455 0 0 1.0936 1139.95 1619.33)" font-size="40" font-family="'Liberation Serif', 'DejaVu Serif', serif" font-weight="bold" fill="#000" stroke="#fff" stroke-width="0.30" stroke-linejoin="round">0</text>
<text transform="matrix(1.2681 0 0 1.1032 792.83 1718.68)" font-size="40" font-family="'Liberation Serif', 'DejaVu Serif', serif" font-weight="bold" fill="#000" stroke="#fff" stroke-width="0.30" stroke-linejoin="round">643.168µm</text>
<text transform="matrix(1.2873 0 0 1.1348 1010.13 1832.49)" font-size="40" font-family="'Liberation Serif', 'DejaVu Serif', serif" font-weight="bold" fill="#000" stroke="#fff" stroke-width="0.30" stroke-linejoin="round">− 1.4</text>
<text transform="matrix(1.3152 0 0 1.1536 203.20 1958.31)" font-size="40" font-family="'Liberation Serif', 'DejaVu Serif', serif" font-weight="bold" fill="#000" stroke="#fff" stroke-width="0.30" stroke-linejoin="round">0</text>
<text transform="matrix(1.2807 0 0 1.1383 458.01 2056.88)" font-size="40" font-family="'Liberation Serif', 'DejaVu Serif', serif" font-weight="bold" fill="#000" stroke="#fff" stroke-width="0.30" stroke-linejoin="round">646.116µm</text>
<text transform="matrix(1.2899 0 0 1.0749 1947.98 1416.92)" font-size="40" font-family="'Liberation Serif', 'DejaVu Serif', serif" font-weight="bold" fill="#000" stroke="#fff" stroke-width="0.30" stroke-linejoin="round">1.5µm</text>
<text transform="matrix(1.3394 0 0 1.0936 2126.06 1605.33)" font-size="40" font-family="'Liberation Serif', 'DejaVu Serif', serif" font-weight="bold" fill="#000" stroke="#fff" stroke-width="0.30" stroke-linejoin="round">0</text>
<text transform="matrix(1.2741 0 0 1.1032 1805.73 1718.68)" font-size="40" font-family="'Liberation Serif', 'DejaVu Serif', serif" font-weight="bold" fill="#000" stroke="#fff" stroke-width="0.30" stroke-linejoin="round">643.168µm</text>
<text transform="matrix(1.2873 0 0 1.1348 1986.83 1832.49)" font-size="40" font-family="'Liberation Serif', 'DejaVu Serif', serif" font-weight="bold" fill="#000" stroke="#fff" stroke-width="0.30" stroke-linejoin="round">− 1.4</text>
<text transform="matrix(1.3152 0 0 1.1536 1176.00 1968.11)" font-size="40" font-family="'Liberation Serif', 'DejaVu Serif', serif" font-weight="bold" fill="#000" stroke="#fff" stroke-width="0.30" stroke-linejoin="round">0</text>
<text transform="matrix(1.2757 0 0 1.1383 1407.42 2057.68)" font-size="40" font-family="'Liberation Serif', 'DejaVu Serif', serif" font-weight="bold" fill="#000" stroke="#fff" stroke-width="0.30" stroke-linejoin="round">646.116µm</text>
</g>
</svg>
</body></html>
